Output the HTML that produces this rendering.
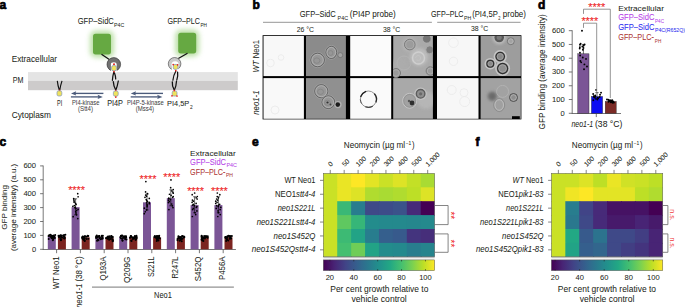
<!DOCTYPE html>
<html><head><meta charset="utf-8"><style>
html,body{margin:0;padding:0;background:#fff;}
body{width:685px;height:307px;overflow:hidden;}
svg{display:block;}
text{font-family:"Liberation Sans",sans-serif;}
</style></head><body>
<svg width="685" height="307" viewBox="0 0 685 307">
<rect width="685" height="307" fill="#fff"/>
<text x="-0.40" y="8.70" font-size="12.00" fill="#000" font-weight="bold" stroke="#000" stroke-width="0.7">a</text>
<text x="252.40" y="8.90" font-size="12.00" fill="#000" font-weight="bold" stroke="#000" stroke-width="0.7">b</text>
<text x="537.90" y="8.90" font-size="12.00" fill="#000" font-weight="bold" stroke="#000" stroke-width="0.7">d</text>
<text x="-0.40" y="146.30" font-size="12.00" fill="#000" font-weight="bold" stroke="#000" stroke-width="0.7">c</text>
<text x="251.90" y="146.40" font-size="12.00" fill="#000" font-weight="bold" stroke="#000" stroke-width="0.7">e</text>
<text x="475.40" y="145.80" font-size="12.00" fill="#000" font-weight="bold" stroke="#000" stroke-width="0.7">f</text>
<defs><filter id="glow" x="-50%" y="-50%" width="200%" height="200%"><feGaussianBlur stdDeviation="2.8"/></filter><filter id="bl0" x="-5%" y="-5%" width="110%" height="110%"><feGaussianBlur stdDeviation="0.45"/></filter><filter id="bl1" x="-20%" y="-20%" width="140%" height="140%"><feGaussianBlur stdDeviation="0.5"/></filter><filter id="bl2" x="-50%" y="-50%" width="200%" height="200%"><feGaussianBlur stdDeviation="1.5"/></filter><linearGradient id="cbar" x1="0" x2="1" y1="0" y2="0"><stop offset="0.00" stop-color="#440154"/><stop offset="0.05" stop-color="#461264"/><stop offset="0.10" stop-color="#482475"/><stop offset="0.15" stop-color="#44347e"/><stop offset="0.20" stop-color="#414487"/><stop offset="0.25" stop-color="#3b528a"/><stop offset="0.30" stop-color="#355f8d"/><stop offset="0.35" stop-color="#306c8e"/><stop offset="0.40" stop-color="#2a788e"/><stop offset="0.45" stop-color="#26848d"/><stop offset="0.50" stop-color="#21918c"/><stop offset="0.55" stop-color="#229c88"/><stop offset="0.60" stop-color="#22a884"/><stop offset="0.65" stop-color="#33b47a"/><stop offset="0.70" stop-color="#44bf70"/><stop offset="0.75" stop-color="#5fc860"/><stop offset="0.80" stop-color="#7ad151"/><stop offset="0.85" stop-color="#9cd83c"/><stop offset="0.90" stop-color="#bddf26"/><stop offset="0.95" stop-color="#dde326"/><stop offset="1.00" stop-color="#fde725"/></linearGradient></defs>
<rect x="28" y="72.1" width="209.8" height="8.7" fill="#e4e4e4"/>
<rect x="28" y="80.8" width="209.8" height="9.4" fill="#cdcbcb"/>
<text x="11.70" y="62.00" font-size="8.86" fill="#231f20" textLength="45.40" lengthAdjust="spacingAndGlyphs" stroke="#231f20" stroke-width="0.04">Extracellular</text>
<text x="12.80" y="82.90" font-size="9.18" fill="#231f20" textLength="10.70" lengthAdjust="spacingAndGlyphs" stroke="#231f20" stroke-width="0.04">PM</text>
<text x="11.70" y="118.30" font-size="8.40" fill="#231f20" textLength="39.20" lengthAdjust="spacingAndGlyphs" stroke="#231f20" stroke-width="0.04">Cytoplasm</text>
<rect x="90" y="30.799999999999997" width="24" height="26.6" rx="6" fill="#a6d68a" opacity="0.75" filter="url(#glow)"/>
<rect x="93" y="33.8" width="18" height="20.6" rx="2.6" fill="#66a942"/>
<rect x="175.2" y="29.799999999999997" width="24" height="26.6" rx="6" fill="#a6d68a" opacity="0.75" filter="url(#glow)"/>
<rect x="178.2" y="32.8" width="18" height="20.6" rx="2.6" fill="#66a942"/>
<text x="77.70" y="24.00" font-size="9.18" fill="#231f20" textLength="36.10" lengthAdjust="spacingAndGlyphs" stroke="#231f20" stroke-width="0.04">GFP–SidC</text>
<text x="114.10" y="26.80" font-size="5.75" fill="#231f20" textLength="10.20" lengthAdjust="spacingAndGlyphs" stroke="#231f20" stroke-width="0.04">P4C</text>
<text x="167.40" y="24.00" font-size="9.02" fill="#231f20" textLength="32.60" lengthAdjust="spacingAndGlyphs" stroke="#231f20" stroke-width="0.04">GFP–PLC</text>
<text x="200.50" y="26.60" font-size="5.75" fill="#231f20" textLength="6.50" lengthAdjust="spacingAndGlyphs" stroke="#231f20" stroke-width="0.04">PH</text>
<line x1="101.5" y1="54.2" x2="109.3" y2="59.6" stroke="#111" stroke-width="1.2"/>
<line x1="187.5" y1="53.2" x2="178.3" y2="58.5" stroke="#111" stroke-width="1.2"/>
<circle cx="113.8" cy="64.4" r="6.8" fill="#717171" stroke="#2a2a2a" stroke-width="0.6"/>
<path d="M110.9 72.5 L110.9 64 Q110.9 62.3 113.8 62.3 Q116.7 62.3 116.7 64 L116.7 72.5 Z" fill="#fff"/>
<circle cx="174.6" cy="63.8" r="6.3" fill="#c9c9c9" stroke="#3a3a3a" stroke-width="0.6"/>
<circle cx="175.1" cy="64.8" r="3.6" fill="#fff"/>
<path d="M172.6 65 L177.8 65 L178.8 71 L171.4 71 Z" fill="#fff"/>
<path d="M57.300000000000004 80.9 Q57.800000000000004 85.45 59.300000000000004 90 M62.0 80.9 Q60.5 85.45 59.800000000000004 90" stroke="#111" stroke-width="1.15" fill="none"/>
<circle cx="59.6" cy="90.4" r="0.85" fill="#e3211b"/>
<rect x="57.00" y="90.82" width="4.80" height="5.15" rx="1.6" fill="#f0e35c" stroke="#7d93bd" stroke-width="0.7"/>
<path d="M113.8 72.2 Q112.7 76 112.4 80.3" stroke="#111" stroke-width="1.25" fill="none" stroke-linecap="round"/>
<path d="M114.4 72.8 Q115.6 75.8 115.7 79" stroke="#111" stroke-width="1.25" fill="none" stroke-linecap="round"/>
<path d="M113.3 81.6 Q113.6 86 115.5 89.4" stroke="#111" stroke-width="1.25" fill="none" stroke-linecap="round"/>
<path d="M118.3 81.0 Q117.4 86 116.1 89.4" stroke="#111" stroke-width="1.25" fill="none" stroke-linecap="round"/>
<circle cx="114" cy="64.3" r="1.0" fill="#e3211b"/>
<rect x="111.60" y="65.62" width="4.80" height="5.15" rx="1.6" fill="#f0e35c" stroke="#7d93bd" stroke-width="0.7"/>
<circle cx="114" cy="71.6" r="0.85" fill="#e3211b"/>
<circle cx="115.8" cy="90.5" r="0.85" fill="#e3211b"/>
<rect x="113.40" y="91.02" width="4.80" height="5.15" rx="1.6" fill="#f0e35c" stroke="#7d93bd" stroke-width="0.7"/>
<circle cx="115.8" cy="97.1" r="0.85" fill="#e3211b"/>
<path d="M175.8 71.2 Q173.5 75 172.9 80.2" stroke="#111" stroke-width="1.25" fill="none" stroke-linecap="round"/>
<path d="M177.6 72.2 Q178.2 76 176.8 80.0" stroke="#111" stroke-width="1.25" fill="none" stroke-linecap="round"/>
<path d="M172.3 81.8 Q172 86 174.0 89.4" stroke="#111" stroke-width="1.25" fill="none" stroke-linecap="round"/>
<path d="M176.5 81.2 Q176.2 86 174.6 89.4" stroke="#111" stroke-width="1.25" fill="none" stroke-linecap="round"/>
<rect x="173.30" y="64.44" width="4.60" height="4.93" rx="1.6" fill="#f0e35c" stroke="#7d93bd" stroke-width="0.7"/>
<circle cx="173.2" cy="64.6" r="0.85" fill="#e3211b"/>
<circle cx="177.6" cy="64.8" r="0.85" fill="#e3211b"/>
<circle cx="175.8" cy="70.6" r="0.85" fill="#e3211b"/>
<rect x="172.20" y="90.92" width="4.80" height="5.15" rx="1.6" fill="#f0e35c" stroke="#7d93bd" stroke-width="0.7"/>
<circle cx="174.3" cy="90.5" r="0.85" fill="#e3211b"/>
<circle cx="172.0" cy="95.8" r="0.85" fill="#e3211b"/>
<circle cx="177.0" cy="96.0" r="0.85" fill="#e3211b"/>
<text x="57.00" y="105.80" font-size="8.40" fill="#231f20" textLength="5.20" lengthAdjust="spacingAndGlyphs" stroke="#231f20" stroke-width="0.04">PI</text>
<text x="107.20" y="105.90" font-size="8.24" fill="#231f20" textLength="15.80" lengthAdjust="spacingAndGlyphs" stroke="#231f20" stroke-width="0.04">PI4P</text>
<text x="167.10" y="106.00" font-size="8.09" fill="#231f20" textLength="22.10" lengthAdjust="spacingAndGlyphs" stroke="#231f20" stroke-width="0.04">PI4,5P</text>
<text x="190.00" y="108.70" font-size="5.20" fill="#231f20" textLength="2.70" lengthAdjust="spacingAndGlyphs" stroke="#231f20" stroke-width="0.04">2</text>
<line x1="74.0" y1="93.4" x2="103.4" y2="93.4" stroke="#4b5b7b" stroke-width="1.35"/>
<path d="M71.0 93.4 L76.2 91.2 L75.4 93.4 L76.2 95.6 Z" fill="#4b5b7b"/>
<line x1="70.9" y1="96.9" x2="99.80000000000001" y2="96.9" stroke="#4b5b7b" stroke-width="1.35"/>
<path d="M102.80000000000001 96.9 L97.60000000000001 94.7 L98.4 96.9 L97.60000000000001 99.1 Z" fill="#4b5b7b"/>
<line x1="133.8" y1="93.4" x2="163.0" y2="93.4" stroke="#4b5b7b" stroke-width="1.35"/>
<path d="M130.8 93.4 L136.0 91.2 L135.20000000000002 93.4 L136.0 95.6 Z" fill="#4b5b7b"/>
<line x1="130.70000000000002" y1="96.9" x2="159.4" y2="96.9" stroke="#4b5b7b" stroke-width="1.35"/>
<path d="M162.4 96.9 L157.20000000000002 94.7 L158.0 96.9 L157.20000000000002 99.1 Z" fill="#4b5b7b"/>
<text x="71.90" y="104.80" font-size="6.53" fill="#444" textLength="27.60" lengthAdjust="spacingAndGlyphs" stroke="#444" stroke-width="0.04">PI4-kinase</text>
<text x="78.00" y="111.20" font-size="6.53" fill="#444" textLength="15.00" lengthAdjust="spacingAndGlyphs" stroke="#444" stroke-width="0.04">(Stt4)</text>
<text x="126.90" y="104.90" font-size="6.53" fill="#444" textLength="36.80" lengthAdjust="spacingAndGlyphs" stroke="#444" stroke-width="0.04">PI4P-5-kinase</text>
<text x="135.70" y="111.30" font-size="6.53" fill="#444" textLength="18.40" lengthAdjust="spacingAndGlyphs" stroke="#444" stroke-width="0.04">(Mss4)</text>
<text x="299.70" y="17.20" font-size="8.86" fill="#231f20" textLength="36.10" lengthAdjust="spacingAndGlyphs" stroke="#231f20" stroke-width="0.04">GFP–SidC</text>
<text x="337.60" y="19.60" font-size="5.13" fill="#231f20" textLength="10.50" lengthAdjust="spacingAndGlyphs" stroke="#231f20" stroke-width="0.04">P4C</text>
<text x="349.80" y="17.20" font-size="8.24" fill="#231f20" textLength="46.00" lengthAdjust="spacingAndGlyphs" stroke="#231f20" stroke-width="0.04">(PI4P probe)</text>
<text x="431.10" y="17.20" font-size="8.86" fill="#231f20" textLength="32.40" lengthAdjust="spacingAndGlyphs" stroke="#231f20" stroke-width="0.04">GFP–PLC</text>
<text x="464.10" y="19.60" font-size="5.13" fill="#231f20" textLength="7.20" lengthAdjust="spacingAndGlyphs" stroke="#231f20" stroke-width="0.04">PH</text>
<text x="472.20" y="17.20" font-size="8.24" fill="#231f20" textLength="25.60" lengthAdjust="spacingAndGlyphs" stroke="#231f20" stroke-width="0.04">(PI4,5P</text>
<text x="498.20" y="19.80" font-size="4.98" fill="#231f20" textLength="2.20" lengthAdjust="spacingAndGlyphs" stroke="#231f20" stroke-width="0.04">2</text>
<text x="502.80" y="17.20" font-size="8.24" fill="#231f20" textLength="23.20" lengthAdjust="spacingAndGlyphs" stroke="#231f20" stroke-width="0.04">probe)</text>
<line x1="263" y1="22.3" x2="431.9" y2="22.3" stroke="#8a8a8a" stroke-width="0.9"/>
<line x1="437.2" y1="22.3" x2="520.6" y2="22.3" stroke="#8a8a8a" stroke-width="0.9"/>
<text x="296.70" y="31.70" font-size="6.84" fill="#231f20" textLength="17.30" lengthAdjust="spacingAndGlyphs" stroke="#231f20" stroke-width="0.04">26 °C</text>
<text x="383.00" y="31.70" font-size="6.84" fill="#231f20" textLength="17.30" lengthAdjust="spacingAndGlyphs" stroke="#231f20" stroke-width="0.04">38 °C</text>
<text x="471.00" y="31.40" font-size="6.84" fill="#231f20" textLength="17.30" lengthAdjust="spacingAndGlyphs" stroke="#231f20" stroke-width="0.04">38 °C</text>
<rect x="262.6" y="35.2" width="258.8" height="84.2" fill="#000"/>
<rect x="263.5" y="36" width="40.4" height="40.1" fill="#f8f8f8"/>
<rect x="306" y="36" width="39.9" height="40.1" fill="#8b8b8b"/>
<rect x="350.2" y="36" width="41.0" height="40.1" fill="#fbfbfb"/>
<rect x="393.2" y="36" width="39.7" height="40.1" fill="#aaaaaa"/>
<rect x="437" y="36" width="41.5" height="40.1" fill="#f7f7f7"/>
<rect x="480.6" y="36" width="40.2" height="40.1" fill="#9d9d9d"/>
<rect x="263.5" y="78.1" width="40.4" height="40.7" fill="#f9f9f9"/>
<rect x="306" y="78.1" width="39.9" height="40.7" fill="#909090"/>
<rect x="350.2" y="78.1" width="41.0" height="40.7" fill="#fafafa"/>
<rect x="393.2" y="78.1" width="39.7" height="40.7" fill="#a9a9a9"/>
<rect x="437" y="78.1" width="41.5" height="40.7" fill="#f7f7f7"/>
<rect x="480.6" y="78.1" width="40.2" height="40.7" fill="#a2a2a2"/>
<clipPath id="c14"><rect x="393.2" y="36" width="39.7" height="82.8"/></clipPath>
<clipPath id="c16"><rect x="480.6" y="36" width="40.2" height="82.8"/></clipPath>
<clipPath id="c12"><rect x="306" y="36" width="39.9" height="82.8"/></clipPath>
<g clip-path="url(#c12)"><g filter="url(#bl0)">
<ellipse cx="317.6" cy="60" rx="7.5" ry="7.5" fill="none" stroke="#a3a3a3" stroke-width="0.9"/>
<ellipse cx="317.6" cy="60" rx="6.8" ry="6.8" fill="#979797" stroke="#555" stroke-width="0.75"/>
<ellipse cx="317.6" cy="60" rx="5.699999999999999" ry="5.699999999999999" fill="none" stroke="#b6b6b6" stroke-width="0.8"/>
<ellipse cx="316.8" cy="60.6" rx="3.06" ry="2.72" fill="none" stroke="#7e7e7e" stroke-width="0.6"/>
<ellipse cx="331.3" cy="52.4" rx="6.1000000000000005" ry="6.8" fill="none" stroke="#a3a3a3" stroke-width="0.9"/>
<ellipse cx="331.3" cy="52.4" rx="5.4" ry="6.1" fill="#979797" stroke="#555" stroke-width="0.75"/>
<ellipse cx="331.3" cy="52.4" rx="4.300000000000001" ry="5.0" fill="none" stroke="#b6b6b6" stroke-width="0.8"/>
<ellipse cx="330.5" cy="53.0" rx="2.43" ry="2.44" fill="none" stroke="#7e7e7e" stroke-width="0.6"/>
<circle cx="340.3" cy="55.1" r="2.5" fill="#a2a2a2" stroke="#666" stroke-width="0.6"/>
<ellipse cx="321.3" cy="91.2" rx="7.3" ry="7.3" fill="none" stroke="#a3a3a3" stroke-width="0.9"/>
<ellipse cx="321.3" cy="91.2" rx="6.6" ry="6.6" fill="#979797" stroke="#555" stroke-width="0.75"/>
<ellipse cx="321.3" cy="91.2" rx="5.5" ry="5.5" fill="none" stroke="#b6b6b6" stroke-width="0.8"/>
<ellipse cx="320.5" cy="91.8" rx="2.97" ry="2.64" fill="none" stroke="#7e7e7e" stroke-width="0.6"/>
<ellipse cx="328.3" cy="102.2" rx="7.1000000000000005" ry="7.1000000000000005" fill="none" stroke="#a3a3a3" stroke-width="0.9"/>
<ellipse cx="328.3" cy="102.2" rx="6.4" ry="6.4" fill="#979797" stroke="#555" stroke-width="0.75"/>
<ellipse cx="328.3" cy="102.2" rx="5.300000000000001" ry="5.300000000000001" fill="none" stroke="#b6b6b6" stroke-width="0.8"/>
<ellipse cx="327.5" cy="102.8" rx="2.88" ry="2.56" fill="none" stroke="#7e7e7e" stroke-width="0.6"/>
<circle cx="338.0" cy="104.6" r="3.6" fill="#b0b0b0" filter="url(#bl1)"/>
<circle cx="337.8" cy="104.6" r="2.3" fill="#1e1e1e" filter="url(#bl1)"/>
<circle cx="327.5" cy="102.5" r="1.1" fill="#333"/>
<circle cx="330.5" cy="104.5" r="0.9" fill="#444"/>
</g></g>
<g clip-path="url(#c14)"><g filter="url(#bl0)">
<circle cx="419" cy="57" r="9" fill="#bdbdbd" filter="url(#bl2)"/>
<circle cx="426" cy="100" r="9" fill="#b6b6b6" filter="url(#bl2)"/>
<circle cx="400" cy="66" r="8" fill="#acacac" filter="url(#bl2)"/>
<circle cx="409.8" cy="44.6" r="7" fill="#b8b8b8" filter="url(#bl2)"/>
<circle cx="426.8" cy="38.8" r="4.3" fill="#767676" stroke="#b0b0b0" stroke-width="0.8" filter="url(#bl1)"/>
<circle cx="429.8" cy="49.8" r="4" fill="#808080" stroke="#b0b0b0" stroke-width="0.8" filter="url(#bl1)"/>
<ellipse cx="409.8" cy="44.6" rx="5.3" ry="5.3" fill="#9c9c9c" stroke="#7a7a7a" stroke-width="1.0"/>
<ellipse cx="409.8" cy="44.6" rx="4.1" ry="4.1" fill="none" stroke="#b5b5b5" stroke-width="0.7"/>
<circle cx="418.5" cy="58" r="6" fill="none" stroke="#cfcfcf" stroke-width="1.5"/>
<path d="M415.5 58 Q416 55 419 55.5 Q421.5 56.5 420.5 59.5 Q418.5 61.5 416.5 59.8" fill="none" stroke="#c4c4c4" stroke-width="1"/>
<circle cx="404" cy="63" r="7" fill="none" stroke="#b4b4b4" stroke-width="0.8"/>
<ellipse cx="396" cy="73" rx="4.5" ry="4.5" fill="#9a9a9a" stroke="#7a7a7a" stroke-width="1.0"/>
<ellipse cx="396" cy="73" rx="3.3" ry="3.3" fill="none" stroke="#b5b5b5" stroke-width="0.7"/>
<ellipse cx="430.3" cy="71" rx="4.2" ry="4.2" fill="#9a9a9a" stroke="#7a7a7a" stroke-width="1.0"/>
<ellipse cx="430.3" cy="71" rx="3.0" ry="3.0" fill="none" stroke="#b5b5b5" stroke-width="0.7"/>
<circle cx="420.6" cy="93.8" r="6.2" fill="#c4c4c4" filter="url(#bl1)"/>
<circle cx="420.6" cy="93.8" r="4.3" fill="#8f8f8f" stroke="#5c5c5c" stroke-width="1.4"/>
<circle cx="420.6" cy="93.8" r="1.6" fill="#6a6a6a"/>
<ellipse cx="409.7" cy="100.8" rx="7" ry="7.4" fill="#a2a2a2" stroke="#c6c6c6" stroke-width="1"/>
<ellipse cx="409.7" cy="100.8" rx="6" ry="6.4" fill="none" stroke="#8a8a8a" stroke-width="0.6"/>
<circle cx="412" cy="103" r="2.4" fill="#2d2d2d" filter="url(#bl1)"/>
<circle cx="409" cy="101" r="1.2" fill="#555" filter="url(#bl1)"/>
</g></g>
<g clip-path="url(#c16)"><g filter="url(#bl0)">
<circle cx="499.2" cy="37.5" r="6.5" fill="#c2c2c2" filter="url(#bl2)"/>
<circle cx="499.2" cy="37.5" r="4.8" fill="#585858" filter="url(#bl1)"/>
<circle cx="499.2" cy="37.5" r="2.5" fill="#7a7a7a" filter="url(#bl1)"/>
<circle cx="500.2" cy="56.6" r="5.9" fill="none" stroke="#c6c6c6" stroke-width="1.4"/>
<circle cx="490.3" cy="63.7" r="5.1" fill="none" stroke="#c6c6c6" stroke-width="1.4"/>
<circle cx="502.6" cy="68.5" r="6.800000000000001" fill="none" stroke="#c6c6c6" stroke-width="1.4"/>
<ellipse cx="510.8" cy="41.2" rx="3.5" ry="3.5" fill="#a2a2a2" stroke="#7a7a7a" stroke-width="1.0"/>
<ellipse cx="510.8" cy="41.2" rx="2.3" ry="2.3" fill="none" stroke="#bbb" stroke-width="0.7"/>
<ellipse cx="500.2" cy="56.6" rx="4.2" ry="4.2" fill="#888" stroke="#303030" stroke-width="1.3"/>
<ellipse cx="500.2" cy="56.6" rx="3.0" ry="3.0" fill="none" stroke="#a8a8a8" stroke-width="0.7"/>
<ellipse cx="490.3" cy="63.7" rx="3.4" ry="3.4" fill="#888" stroke="#303030" stroke-width="1.2"/>
<ellipse cx="490.3" cy="63.7" rx="2.2" ry="2.2" fill="none" stroke="#a8a8a8" stroke-width="0.7"/>
<ellipse cx="502.6" cy="68.5" rx="5" ry="5" fill="#8e8e8e" stroke="#303030" stroke-width="1.3"/>
<ellipse cx="502.6" cy="68.5" rx="3.8" ry="3.8" fill="none" stroke="#b0b0b0" stroke-width="0.7"/>
<circle cx="492.3" cy="96.2" r="4.5" fill="#6a6a6a" filter="url(#bl2)"/>
<ellipse cx="513.5" cy="97.5" rx="4" ry="4" fill="#8e8e8e" stroke="#505050" stroke-width="1.0"/>
<ellipse cx="513.5" cy="97.5" rx="2.8" ry="2.8" fill="none" stroke="#bbb" stroke-width="0.7"/>
<ellipse cx="499.2" cy="105" rx="5.5" ry="6.5" fill="#a0a0a0" stroke="#888" stroke-width="0.8"/>
<ellipse cx="499.2" cy="105" rx="4.3" ry="5.3" fill="none" stroke="#c8c8c8" stroke-width="0.7"/>
<circle cx="502.6" cy="91.4" r="6" fill="none" stroke="#b5b5b5" stroke-width="0.8"/>
</g></g>
<ellipse cx="368.4" cy="99.2" rx="8" ry="8.2" fill="none" stroke="#8a8a8a" stroke-width="0.9"/>
<path d="M360.79 96.43 A8.1 8.1 0 0 1 365.63 91.59" fill="none" stroke="#1e1e1e" stroke-width="1.4" stroke-linecap="round"/>
<path d="M374.60 93.99 A8.1 8.1 0 0 1 376.01 101.97" fill="none" stroke="#2a2a2a" stroke-width="1.3" stroke-linecap="round"/>
<path d="M372.45 106.21 A8.1 8.1 0 0 1 365.63 106.81" fill="none" stroke="#444" stroke-width="1.1" stroke-linecap="round"/>
<path d="M361.39 103.25 A8.1 8.1 0 0 1 360.33 99.91" fill="none" stroke="#555" stroke-width="1.0" stroke-linecap="round"/>
<circle cx="270.5" cy="63" r="3.8" fill="none" stroke="#ebebeb" stroke-width="0.9"/>
<circle cx="281" cy="57.5" r="2.8" fill="none" stroke="#ebebeb" stroke-width="0.9"/>
<circle cx="453.5" cy="42.7" r="4.8" fill="none" stroke="#ebebeb" stroke-width="0.9"/>
<circle cx="453.5" cy="61.3" r="4.2" fill="none" stroke="#ebebeb" stroke-width="0.9"/>
<circle cx="451.7" cy="90" r="4.5" fill="none" stroke="#ebebeb" stroke-width="0.9"/>
<circle cx="464" cy="92.7" r="4" fill="none" stroke="#ebebeb" stroke-width="0.9"/>
<circle cx="464.7" cy="101.6" r="5" fill="none" stroke="#ebebeb" stroke-width="0.9"/>
<circle cx="275" cy="110" r="4" fill="none" stroke="#ebebeb" stroke-width="0.9"/>
<rect x="512" y="116.2" width="7.8" height="2.8" fill="#000"/>
<text transform="translate(259.20,72.40) rotate(-90)" font-size="9.02" fill="#231f20" textLength="32.40" lengthAdjust="spacingAndGlyphs" stroke="#231f20" stroke-width="0.04"><tspan font-style="italic">WT</tspan> Neo1</text>
<text transform="translate(259.00,114.80) rotate(-90)" font-size="8.40" fill="#231f20" font-style="italic" textLength="24.30" lengthAdjust="spacingAndGlyphs" stroke="#231f20" stroke-width="0.04">neo1-1</text>
<text transform="translate(544.80,129.50) rotate(-90)" font-size="8.40" fill="#231f20" textLength="115.30" lengthAdjust="spacingAndGlyphs" stroke="#231f20" stroke-width="0.04">GFP binding (average intensity)</text>
<text x="564.80" y="115.70" font-size="7.54" fill="#231f20" text-anchor="end" textLength="4.20" lengthAdjust="spacingAndGlyphs" stroke="#231f20" stroke-width="0.04">0</text>
<line x1="568.8" y1="113.30" x2="572.2" y2="113.30" stroke="#555" stroke-width="0.8"/>
<text x="564.80" y="101.93" font-size="7.54" fill="#231f20" text-anchor="end" textLength="12.70" lengthAdjust="spacingAndGlyphs" stroke="#231f20" stroke-width="0.04">100</text>
<line x1="568.8" y1="99.53" x2="572.2" y2="99.53" stroke="#555" stroke-width="0.8"/>
<text x="564.80" y="88.16" font-size="7.54" fill="#231f20" text-anchor="end" textLength="12.70" lengthAdjust="spacingAndGlyphs" stroke="#231f20" stroke-width="0.04">200</text>
<line x1="568.8" y1="85.76" x2="572.2" y2="85.76" stroke="#555" stroke-width="0.8"/>
<text x="564.80" y="74.39" font-size="7.54" fill="#231f20" text-anchor="end" textLength="12.70" lengthAdjust="spacingAndGlyphs" stroke="#231f20" stroke-width="0.04">300</text>
<line x1="568.8" y1="71.99" x2="572.2" y2="71.99" stroke="#555" stroke-width="0.8"/>
<text x="564.80" y="60.62" font-size="7.54" fill="#231f20" text-anchor="end" textLength="12.70" lengthAdjust="spacingAndGlyphs" stroke="#231f20" stroke-width="0.04">400</text>
<line x1="568.8" y1="58.22" x2="572.2" y2="58.22" stroke="#555" stroke-width="0.8"/>
<text x="564.80" y="46.85" font-size="7.54" fill="#231f20" text-anchor="end" textLength="12.70" lengthAdjust="spacingAndGlyphs" stroke="#231f20" stroke-width="0.04">500</text>
<line x1="568.8" y1="44.45" x2="572.2" y2="44.45" stroke="#555" stroke-width="0.8"/>
<text x="564.80" y="33.08" font-size="7.54" fill="#231f20" text-anchor="end" textLength="12.70" lengthAdjust="spacingAndGlyphs" stroke="#231f20" stroke-width="0.04">600</text>
<line x1="568.8" y1="30.68" x2="572.2" y2="30.68" stroke="#555" stroke-width="0.8"/>
<line x1="572.2" y1="30.3" x2="572.2" y2="113.7" stroke="#555" stroke-width="0.8"/>
<line x1="571.8" y1="113.5" x2="621" y2="113.5" stroke="#555" stroke-width="0.8"/>
<line x1="596.3" y1="113.5" x2="596.3" y2="117.1" stroke="#555" stroke-width="0.8"/>
<rect x="577.8" y="53.81" width="11.2" height="59.49" fill="#7b5596" stroke="#222" stroke-width="0.4"/>
<rect x="591.4" y="96.50" width="11.2" height="16.80" fill="#0d0df2" stroke="#222" stroke-width="0.4"/>
<rect x="605.2" y="101.46" width="11.0" height="11.84" fill="#7b2b26" stroke="#222" stroke-width="0.4"/>
<line x1="583.4" y1="53.81" x2="583.4" y2="44.45" stroke="#000" stroke-width="0.6"/>
<line x1="581.8" y1="44.45" x2="585.0" y2="44.45" stroke="#000" stroke-width="0.6"/>
<circle cx="581.99" cy="30.68" r="0.95" fill="#000"/>
<circle cx="580.61" cy="43.76" r="0.95" fill="#000"/>
<circle cx="584.61" cy="44.45" r="0.95" fill="#000"/>
<circle cx="579.98" cy="44.73" r="0.95" fill="#000"/>
<circle cx="583.69" cy="45.55" r="0.95" fill="#000"/>
<circle cx="582.33" cy="46.52" r="0.95" fill="#000"/>
<circle cx="579.86" cy="47.20" r="0.95" fill="#000"/>
<circle cx="583.46" cy="47.89" r="0.95" fill="#000"/>
<circle cx="579.70" cy="48.58" r="0.95" fill="#000"/>
<circle cx="582.87" cy="49.68" r="0.95" fill="#000"/>
<circle cx="579.96" cy="52.71" r="0.95" fill="#000"/>
<circle cx="580.13" cy="55.47" r="0.95" fill="#000"/>
<circle cx="582.80" cy="57.53" r="0.95" fill="#000"/>
<circle cx="586.01" cy="58.91" r="0.95" fill="#000"/>
<circle cx="580.39" cy="60.97" r="0.95" fill="#000"/>
<circle cx="581.19" cy="62.35" r="0.95" fill="#000"/>
<circle cx="584.42" cy="64.42" r="0.95" fill="#000"/>
<circle cx="586.98" cy="66.48" r="0.95" fill="#000"/>
<circle cx="584.02" cy="69.24" r="0.95" fill="#000"/>
<line x1="597" y1="96.50" x2="597" y2="92.64" stroke="#000" stroke-width="0.6"/>
<line x1="595.4" y1="92.64" x2="598.6" y2="92.64" stroke="#000" stroke-width="0.6"/>
<circle cx="596.12" cy="89.89" r="0.95" fill="#000"/>
<circle cx="601.05" cy="92.64" r="0.95" fill="#000"/>
<circle cx="593.15" cy="94.02" r="0.95" fill="#000"/>
<circle cx="600.05" cy="94.71" r="0.95" fill="#000"/>
<circle cx="595.21" cy="95.40" r="0.95" fill="#000"/>
<circle cx="593.98" cy="96.09" r="0.95" fill="#000"/>
<circle cx="593.75" cy="96.50" r="0.95" fill="#000"/>
<circle cx="595.37" cy="96.78" r="0.95" fill="#000"/>
<circle cx="599.69" cy="97.05" r="0.95" fill="#000"/>
<circle cx="594.29" cy="97.46" r="0.95" fill="#000"/>
<circle cx="597.69" cy="97.88" r="0.95" fill="#000"/>
<circle cx="598.18" cy="98.15" r="0.95" fill="#000"/>
<circle cx="595.92" cy="98.84" r="0.95" fill="#000"/>
<circle cx="597.41" cy="99.53" r="0.95" fill="#000"/>
<circle cx="593.28" cy="100.22" r="0.95" fill="#000"/>
<circle cx="606.96" cy="99.53" r="0.95" fill="#000"/>
<circle cx="608.20" cy="99.81" r="0.95" fill="#000"/>
<circle cx="612.23" cy="100.08" r="0.95" fill="#000"/>
<circle cx="610.08" cy="100.22" r="0.95" fill="#000"/>
<circle cx="609.12" cy="100.49" r="0.95" fill="#000"/>
<circle cx="611.43" cy="100.63" r="0.95" fill="#000"/>
<circle cx="610.30" cy="100.91" r="0.95" fill="#000"/>
<circle cx="609.00" cy="101.18" r="0.95" fill="#000"/>
<circle cx="613.20" cy="101.46" r="0.95" fill="#000"/>
<circle cx="612.39" cy="101.60" r="0.95" fill="#000"/>
<circle cx="608.52" cy="101.73" r="0.95" fill="#000"/>
<circle cx="611.33" cy="102.01" r="0.95" fill="#000"/>
<circle cx="610.91" cy="102.28" r="0.95" fill="#000"/>
<circle cx="613.89" cy="102.56" r="0.95" fill="#000"/>
<circle cx="612.65" cy="102.83" r="0.95" fill="#000"/>
<path d="M583.5 13.9 L583.5 9.2 L610.3 9.2 L610.3 98" stroke="#7a7a7a" stroke-width="0.8" fill="none"/>
<path d="M583.5 27.9 L583.5 23.2 L596.7 23.2 L596.7 93" stroke="#7a7a7a" stroke-width="0.8" fill="none"/>
<text x="588.30" y="11.30" font-size="10.00" fill="#ee1c24" textLength="16.90" lengthAdjust="spacingAndGlyphs" stroke="#ee1c24" stroke-width="0.1">****</text>
<text x="581.40" y="25.20" font-size="10.00" fill="#ee1c24" textLength="16.80" lengthAdjust="spacingAndGlyphs" stroke="#ee1c24" stroke-width="0.1">****</text>
<text x="618.20" y="10.70" font-size="7.93" fill="#231f20" textLength="45.80" lengthAdjust="spacingAndGlyphs" stroke="#231f20" stroke-width="0.04">Extracellular</text>
<text x="618.20" y="19.90" font-size="8.55" fill="#b53ce8" textLength="36.30" lengthAdjust="spacingAndGlyphs" stroke="#b53ce8" stroke-width="0.04">GFP–SidC</text>
<text x="655.00" y="22.50" font-size="5.29" fill="#b53ce8" textLength="9.00" lengthAdjust="spacingAndGlyphs" stroke="#b53ce8" stroke-width="0.04">P4C</text>
<text x="618.20" y="29.80" font-size="8.55" fill="#2b2bf0" textLength="36.30" lengthAdjust="spacingAndGlyphs" stroke="#2b2bf0" stroke-width="0.04">GFP–SidC</text>
<text x="655.00" y="32.40" font-size="5.29" fill="#2b2bf0" textLength="30.00" lengthAdjust="spacingAndGlyphs" stroke="#2b2bf0" stroke-width="0.04">P4C(R652Q)</text>
<text x="618.20" y="39.90" font-size="8.55" fill="#ad3434" textLength="35.80" lengthAdjust="spacingAndGlyphs" stroke="#ad3434" stroke-width="0.04">GFP–PLC-</text>
<text x="654.80" y="42.50" font-size="5.29" fill="#ad3434" textLength="6.50" lengthAdjust="spacingAndGlyphs" stroke="#ad3434" stroke-width="0.04">PH</text>
<text x="571.40" y="127.30" font-size="8.40" fill="#231f20" font-style="italic" textLength="21.80" lengthAdjust="spacingAndGlyphs" stroke="#231f20" stroke-width="0.04">neo1-1</text>
<text x="595.00" y="127.30" font-size="8.40" fill="#231f20" textLength="27.30" lengthAdjust="spacingAndGlyphs" stroke="#231f20" stroke-width="0.04">(38 °C)</text>
<text transform="translate(6.70,229.70) rotate(-90)" font-size="7.93" fill="#231f20" textLength="44.60" lengthAdjust="spacingAndGlyphs" stroke="#231f20" stroke-width="0.04">GFP binding</text>
<text transform="translate(16.20,251.10) rotate(-90)" font-size="8.09" fill="#231f20" textLength="87.40" lengthAdjust="spacingAndGlyphs" stroke="#231f20" stroke-width="0.04">(average intensity) (a.u.)</text>
<text x="36.10" y="251.70" font-size="7.54" fill="#231f20" text-anchor="end" textLength="4.20" lengthAdjust="spacingAndGlyphs" stroke="#231f20" stroke-width="0.04">0</text>
<line x1="40.1" y1="249.30" x2="43.2" y2="249.30" stroke="#555" stroke-width="0.8"/>
<text x="36.10" y="237.80" font-size="7.54" fill="#231f20" text-anchor="end" textLength="12.70" lengthAdjust="spacingAndGlyphs" stroke="#231f20" stroke-width="0.04">100</text>
<line x1="40.1" y1="235.40" x2="43.2" y2="235.40" stroke="#555" stroke-width="0.8"/>
<text x="36.10" y="223.90" font-size="7.54" fill="#231f20" text-anchor="end" textLength="12.70" lengthAdjust="spacingAndGlyphs" stroke="#231f20" stroke-width="0.04">200</text>
<line x1="40.1" y1="221.50" x2="43.2" y2="221.50" stroke="#555" stroke-width="0.8"/>
<text x="36.10" y="210.00" font-size="7.54" fill="#231f20" text-anchor="end" textLength="12.70" lengthAdjust="spacingAndGlyphs" stroke="#231f20" stroke-width="0.04">300</text>
<line x1="40.1" y1="207.60" x2="43.2" y2="207.60" stroke="#555" stroke-width="0.8"/>
<text x="36.10" y="196.10" font-size="7.54" fill="#231f20" text-anchor="end" textLength="12.70" lengthAdjust="spacingAndGlyphs" stroke="#231f20" stroke-width="0.04">400</text>
<line x1="40.1" y1="193.70" x2="43.2" y2="193.70" stroke="#555" stroke-width="0.8"/>
<text x="36.10" y="182.20" font-size="7.54" fill="#231f20" text-anchor="end" textLength="12.70" lengthAdjust="spacingAndGlyphs" stroke="#231f20" stroke-width="0.04">500</text>
<line x1="40.1" y1="179.80" x2="43.2" y2="179.80" stroke="#555" stroke-width="0.8"/>
<text x="36.10" y="168.30" font-size="7.54" fill="#231f20" text-anchor="end" textLength="12.70" lengthAdjust="spacingAndGlyphs" stroke="#231f20" stroke-width="0.04">600</text>
<line x1="40.1" y1="165.90" x2="43.2" y2="165.90" stroke="#555" stroke-width="0.8"/>
<line x1="43.2" y1="165.6" x2="43.2" y2="249.7" stroke="#555" stroke-width="0.8"/>
<line x1="42.8" y1="249.5" x2="235.9" y2="249.5" stroke="#555" stroke-width="0.8"/>
<line x1="56.60" y1="249.5" x2="56.60" y2="253.2" stroke="#555" stroke-width="0.8"/>
<rect x="47.80" y="236.51" width="8.0" height="12.79" fill="#7b5596"/>
<rect x="57.90" y="236.51" width="8.0" height="12.79" fill="#7b2420"/>
<circle cx="50.32" cy="234.84" r="1.0" fill="#000"/>
<circle cx="55.16" cy="235.12" r="1.0" fill="#000"/>
<circle cx="49.13" cy="235.26" r="1.0" fill="#000"/>
<circle cx="51.23" cy="235.40" r="1.0" fill="#000"/>
<circle cx="53.60" cy="235.54" r="1.0" fill="#000"/>
<circle cx="49.36" cy="235.68" r="1.0" fill="#000"/>
<circle cx="51.72" cy="235.82" r="1.0" fill="#000"/>
<circle cx="48.57" cy="235.96" r="1.0" fill="#000"/>
<circle cx="52.98" cy="236.09" r="1.0" fill="#000"/>
<circle cx="53.65" cy="236.23" r="1.0" fill="#000"/>
<circle cx="52.31" cy="236.37" r="1.0" fill="#000"/>
<circle cx="54.43" cy="236.51" r="1.0" fill="#000"/>
<circle cx="50.50" cy="236.65" r="1.0" fill="#000"/>
<circle cx="53.17" cy="236.79" r="1.0" fill="#000"/>
<circle cx="52.46" cy="236.93" r="1.0" fill="#000"/>
<circle cx="52.36" cy="237.07" r="1.0" fill="#000"/>
<circle cx="51.49" cy="237.35" r="1.0" fill="#000"/>
<circle cx="54.18" cy="237.62" r="1.0" fill="#000"/>
<circle cx="54.91" cy="237.90" r="1.0" fill="#000"/>
<circle cx="51.62" cy="238.18" r="1.0" fill="#000"/>
<circle cx="52.95" cy="238.60" r="1.0" fill="#000"/>
<circle cx="48.72" cy="239.01" r="1.0" fill="#000"/>
<circle cx="53.21" cy="239.57" r="1.0" fill="#000"/>
<circle cx="52.83" cy="240.13" r="1.0" fill="#000"/>
<circle cx="65.35" cy="234.84" r="1.0" fill="#000"/>
<circle cx="64.15" cy="235.12" r="1.0" fill="#000"/>
<circle cx="60.39" cy="235.26" r="1.0" fill="#000"/>
<circle cx="61.10" cy="235.40" r="1.0" fill="#000"/>
<circle cx="63.08" cy="235.54" r="1.0" fill="#000"/>
<circle cx="58.56" cy="235.68" r="1.0" fill="#000"/>
<circle cx="61.63" cy="235.82" r="1.0" fill="#000"/>
<circle cx="59.58" cy="235.96" r="1.0" fill="#000"/>
<circle cx="59.22" cy="236.09" r="1.0" fill="#000"/>
<circle cx="58.81" cy="236.23" r="1.0" fill="#000"/>
<circle cx="63.78" cy="236.37" r="1.0" fill="#000"/>
<circle cx="59.31" cy="236.51" r="1.0" fill="#000"/>
<circle cx="60.13" cy="236.65" r="1.0" fill="#000"/>
<circle cx="61.14" cy="236.79" r="1.0" fill="#000"/>
<circle cx="64.50" cy="236.93" r="1.0" fill="#000"/>
<circle cx="58.96" cy="237.07" r="1.0" fill="#000"/>
<circle cx="61.54" cy="237.35" r="1.0" fill="#000"/>
<circle cx="62.25" cy="237.62" r="1.0" fill="#000"/>
<circle cx="64.58" cy="237.90" r="1.0" fill="#000"/>
<circle cx="64.13" cy="238.18" r="1.0" fill="#000"/>
<circle cx="64.45" cy="238.60" r="1.0" fill="#000"/>
<circle cx="60.35" cy="239.01" r="1.0" fill="#000"/>
<circle cx="61.31" cy="239.57" r="1.0" fill="#000"/>
<circle cx="60.91" cy="240.13" r="1.0" fill="#000"/>
<line x1="80.40" y1="249.5" x2="80.40" y2="253.2" stroke="#555" stroke-width="0.8"/>
<rect x="71.60" y="207.18" width="8.0" height="42.12" fill="#7b5596"/>
<rect x="81.70" y="237.35" width="8.0" height="11.95" fill="#7b2420"/>
<line x1="75.60000000000001" y1="214.83" x2="75.60000000000001" y2="198.84" stroke="#000" stroke-width="0.6"/>
<line x1="74.10000000000001" y1="198.84" x2="77.10000000000001" y2="198.84" stroke="#000" stroke-width="0.6"/>
<line x1="74.10000000000001" y1="214.83" x2="77.10000000000001" y2="214.83" stroke="#000" stroke-width="0.6"/>
<circle cx="77.71" cy="193.70" r="0.85" fill="#000"/>
<circle cx="78.12" cy="196.76" r="0.85" fill="#000"/>
<circle cx="73.68" cy="198.56" r="0.85" fill="#000"/>
<circle cx="73.82" cy="199.96" r="0.85" fill="#000"/>
<circle cx="74.13" cy="201.07" r="0.85" fill="#000"/>
<circle cx="74.13" cy="202.18" r="0.85" fill="#000"/>
<circle cx="75.52" cy="203.29" r="0.85" fill="#000"/>
<circle cx="76.09" cy="204.40" r="0.85" fill="#000"/>
<circle cx="74.30" cy="205.52" r="0.85" fill="#000"/>
<circle cx="72.87" cy="206.35" r="0.85" fill="#000"/>
<circle cx="75.15" cy="207.18" r="0.85" fill="#000"/>
<circle cx="74.88" cy="207.74" r="0.85" fill="#000"/>
<circle cx="75.96" cy="208.57" r="0.85" fill="#000"/>
<circle cx="78.09" cy="209.41" r="0.85" fill="#000"/>
<circle cx="76.65" cy="210.52" r="0.85" fill="#000"/>
<circle cx="75.69" cy="211.63" r="0.85" fill="#000"/>
<circle cx="76.25" cy="213.02" r="0.85" fill="#000"/>
<circle cx="76.57" cy="214.83" r="0.85" fill="#000"/>
<circle cx="73.15" cy="216.63" r="0.85" fill="#000"/>
<circle cx="77.80" cy="218.58" r="0.85" fill="#000"/>
<circle cx="87.66" cy="235.68" r="1.0" fill="#000"/>
<circle cx="88.32" cy="235.96" r="1.0" fill="#000"/>
<circle cx="87.79" cy="236.09" r="1.0" fill="#000"/>
<circle cx="84.95" cy="236.23" r="1.0" fill="#000"/>
<circle cx="84.99" cy="236.37" r="1.0" fill="#000"/>
<circle cx="82.92" cy="236.51" r="1.0" fill="#000"/>
<circle cx="86.64" cy="236.65" r="1.0" fill="#000"/>
<circle cx="82.64" cy="236.79" r="1.0" fill="#000"/>
<circle cx="82.67" cy="236.93" r="1.0" fill="#000"/>
<circle cx="83.66" cy="237.07" r="1.0" fill="#000"/>
<circle cx="83.34" cy="237.21" r="1.0" fill="#000"/>
<circle cx="84.58" cy="237.35" r="1.0" fill="#000"/>
<circle cx="82.57" cy="237.49" r="1.0" fill="#000"/>
<circle cx="82.20" cy="237.62" r="1.0" fill="#000"/>
<circle cx="83.26" cy="237.76" r="1.0" fill="#000"/>
<circle cx="82.91" cy="237.90" r="1.0" fill="#000"/>
<circle cx="84.75" cy="238.18" r="1.0" fill="#000"/>
<circle cx="82.38" cy="238.46" r="1.0" fill="#000"/>
<circle cx="88.32" cy="238.74" r="1.0" fill="#000"/>
<circle cx="86.50" cy="239.01" r="1.0" fill="#000"/>
<circle cx="83.24" cy="239.43" r="1.0" fill="#000"/>
<circle cx="83.97" cy="239.85" r="1.0" fill="#000"/>
<circle cx="84.63" cy="240.40" r="1.0" fill="#000"/>
<circle cx="84.75" cy="240.96" r="1.0" fill="#000"/>
<text x="68.15" y="194.30" font-size="10.00" fill="#ee1c24" textLength="16.90" lengthAdjust="spacingAndGlyphs" stroke="#ee1c24" stroke-width="0.1">****</text>
<line x1="104.20" y1="249.5" x2="104.20" y2="253.2" stroke="#555" stroke-width="0.8"/>
<rect x="95.40" y="237.07" width="8.0" height="12.23" fill="#7b5596"/>
<rect x="105.50" y="237.62" width="8.0" height="11.68" fill="#7b2420"/>
<circle cx="96.76" cy="235.40" r="1.0" fill="#000"/>
<circle cx="101.84" cy="235.68" r="1.0" fill="#000"/>
<circle cx="102.85" cy="235.82" r="1.0" fill="#000"/>
<circle cx="99.16" cy="235.96" r="1.0" fill="#000"/>
<circle cx="99.29" cy="236.09" r="1.0" fill="#000"/>
<circle cx="96.50" cy="236.23" r="1.0" fill="#000"/>
<circle cx="96.62" cy="236.37" r="1.0" fill="#000"/>
<circle cx="98.30" cy="236.51" r="1.0" fill="#000"/>
<circle cx="97.75" cy="236.65" r="1.0" fill="#000"/>
<circle cx="101.70" cy="236.79" r="1.0" fill="#000"/>
<circle cx="97.03" cy="236.93" r="1.0" fill="#000"/>
<circle cx="96.06" cy="237.07" r="1.0" fill="#000"/>
<circle cx="102.56" cy="237.21" r="1.0" fill="#000"/>
<circle cx="99.60" cy="237.35" r="1.0" fill="#000"/>
<circle cx="96.93" cy="237.49" r="1.0" fill="#000"/>
<circle cx="99.70" cy="237.62" r="1.0" fill="#000"/>
<circle cx="96.09" cy="237.90" r="1.0" fill="#000"/>
<circle cx="99.60" cy="238.18" r="1.0" fill="#000"/>
<circle cx="102.75" cy="238.46" r="1.0" fill="#000"/>
<circle cx="101.94" cy="238.74" r="1.0" fill="#000"/>
<circle cx="100.77" cy="239.15" r="1.0" fill="#000"/>
<circle cx="97.73" cy="239.57" r="1.0" fill="#000"/>
<circle cx="98.47" cy="240.13" r="1.0" fill="#000"/>
<circle cx="97.07" cy="240.68" r="1.0" fill="#000"/>
<circle cx="111.40" cy="235.96" r="1.0" fill="#000"/>
<circle cx="109.73" cy="236.23" r="1.0" fill="#000"/>
<circle cx="111.45" cy="236.37" r="1.0" fill="#000"/>
<circle cx="108.31" cy="236.51" r="1.0" fill="#000"/>
<circle cx="107.56" cy="236.65" r="1.0" fill="#000"/>
<circle cx="111.68" cy="236.79" r="1.0" fill="#000"/>
<circle cx="112.89" cy="236.93" r="1.0" fill="#000"/>
<circle cx="111.97" cy="237.07" r="1.0" fill="#000"/>
<circle cx="111.64" cy="237.21" r="1.0" fill="#000"/>
<circle cx="111.73" cy="237.35" r="1.0" fill="#000"/>
<circle cx="111.18" cy="237.49" r="1.0" fill="#000"/>
<circle cx="107.59" cy="237.62" r="1.0" fill="#000"/>
<circle cx="109.62" cy="237.76" r="1.0" fill="#000"/>
<circle cx="108.49" cy="237.90" r="1.0" fill="#000"/>
<circle cx="106.20" cy="238.04" r="1.0" fill="#000"/>
<circle cx="106.20" cy="238.18" r="1.0" fill="#000"/>
<circle cx="107.96" cy="238.46" r="1.0" fill="#000"/>
<circle cx="107.81" cy="238.74" r="1.0" fill="#000"/>
<circle cx="110.85" cy="239.01" r="1.0" fill="#000"/>
<circle cx="112.70" cy="239.29" r="1.0" fill="#000"/>
<circle cx="109.13" cy="239.71" r="1.0" fill="#000"/>
<circle cx="112.56" cy="240.13" r="1.0" fill="#000"/>
<circle cx="112.92" cy="240.68" r="1.0" fill="#000"/>
<circle cx="112.69" cy="241.24" r="1.0" fill="#000"/>
<line x1="128.00" y1="249.5" x2="128.00" y2="253.2" stroke="#555" stroke-width="0.8"/>
<rect x="119.20" y="237.07" width="8.0" height="12.23" fill="#7b5596"/>
<rect x="129.30" y="237.35" width="8.0" height="11.95" fill="#7b2420"/>
<circle cx="122.25" cy="235.40" r="1.0" fill="#000"/>
<circle cx="121.24" cy="235.68" r="1.0" fill="#000"/>
<circle cx="121.29" cy="235.82" r="1.0" fill="#000"/>
<circle cx="121.08" cy="235.96" r="1.0" fill="#000"/>
<circle cx="121.13" cy="236.09" r="1.0" fill="#000"/>
<circle cx="124.07" cy="236.23" r="1.0" fill="#000"/>
<circle cx="126.00" cy="236.37" r="1.0" fill="#000"/>
<circle cx="125.58" cy="236.51" r="1.0" fill="#000"/>
<circle cx="123.06" cy="236.65" r="1.0" fill="#000"/>
<circle cx="124.27" cy="236.79" r="1.0" fill="#000"/>
<circle cx="125.30" cy="236.93" r="1.0" fill="#000"/>
<circle cx="120.29" cy="237.07" r="1.0" fill="#000"/>
<circle cx="124.32" cy="237.21" r="1.0" fill="#000"/>
<circle cx="126.07" cy="237.35" r="1.0" fill="#000"/>
<circle cx="125.18" cy="237.49" r="1.0" fill="#000"/>
<circle cx="124.95" cy="237.62" r="1.0" fill="#000"/>
<circle cx="123.05" cy="237.90" r="1.0" fill="#000"/>
<circle cx="120.95" cy="238.18" r="1.0" fill="#000"/>
<circle cx="125.22" cy="238.46" r="1.0" fill="#000"/>
<circle cx="122.03" cy="238.74" r="1.0" fill="#000"/>
<circle cx="125.31" cy="239.15" r="1.0" fill="#000"/>
<circle cx="126.50" cy="239.57" r="1.0" fill="#000"/>
<circle cx="122.47" cy="240.13" r="1.0" fill="#000"/>
<circle cx="122.51" cy="240.68" r="1.0" fill="#000"/>
<circle cx="136.43" cy="235.68" r="1.0" fill="#000"/>
<circle cx="134.87" cy="235.96" r="1.0" fill="#000"/>
<circle cx="130.99" cy="236.09" r="1.0" fill="#000"/>
<circle cx="130.69" cy="236.23" r="1.0" fill="#000"/>
<circle cx="130.86" cy="236.37" r="1.0" fill="#000"/>
<circle cx="136.13" cy="236.51" r="1.0" fill="#000"/>
<circle cx="135.45" cy="236.65" r="1.0" fill="#000"/>
<circle cx="130.82" cy="236.79" r="1.0" fill="#000"/>
<circle cx="135.59" cy="236.93" r="1.0" fill="#000"/>
<circle cx="136.66" cy="237.07" r="1.0" fill="#000"/>
<circle cx="134.40" cy="237.21" r="1.0" fill="#000"/>
<circle cx="132.25" cy="237.35" r="1.0" fill="#000"/>
<circle cx="133.64" cy="237.49" r="1.0" fill="#000"/>
<circle cx="130.72" cy="237.62" r="1.0" fill="#000"/>
<circle cx="129.90" cy="237.76" r="1.0" fill="#000"/>
<circle cx="136.60" cy="237.90" r="1.0" fill="#000"/>
<circle cx="134.35" cy="238.18" r="1.0" fill="#000"/>
<circle cx="133.49" cy="238.46" r="1.0" fill="#000"/>
<circle cx="136.34" cy="238.74" r="1.0" fill="#000"/>
<circle cx="132.84" cy="239.01" r="1.0" fill="#000"/>
<circle cx="135.90" cy="239.43" r="1.0" fill="#000"/>
<circle cx="135.58" cy="239.85" r="1.0" fill="#000"/>
<circle cx="131.28" cy="240.40" r="1.0" fill="#000"/>
<circle cx="131.56" cy="240.96" r="1.0" fill="#000"/>
<line x1="151.80" y1="249.5" x2="151.80" y2="253.2" stroke="#555" stroke-width="0.8"/>
<rect x="143.00" y="202.32" width="8.0" height="46.98" fill="#7b5596"/>
<rect x="153.10" y="237.35" width="8.0" height="11.95" fill="#7b2420"/>
<line x1="147.0" y1="209.96" x2="147.0" y2="193.98" stroke="#000" stroke-width="0.6"/>
<line x1="145.5" y1="193.98" x2="148.5" y2="193.98" stroke="#000" stroke-width="0.6"/>
<line x1="145.5" y1="209.96" x2="148.5" y2="209.96" stroke="#000" stroke-width="0.6"/>
<circle cx="145.86" cy="181.61" r="0.85" fill="#000"/>
<circle cx="145.57" cy="191.89" r="0.85" fill="#000"/>
<circle cx="147.48" cy="193.70" r="0.85" fill="#000"/>
<circle cx="145.68" cy="195.09" r="0.85" fill="#000"/>
<circle cx="146.55" cy="196.20" r="0.85" fill="#000"/>
<circle cx="144.97" cy="197.31" r="0.85" fill="#000"/>
<circle cx="149.26" cy="198.43" r="0.85" fill="#000"/>
<circle cx="146.20" cy="199.54" r="0.85" fill="#000"/>
<circle cx="146.77" cy="200.65" r="0.85" fill="#000"/>
<circle cx="147.46" cy="201.48" r="0.85" fill="#000"/>
<circle cx="149.22" cy="202.32" r="0.85" fill="#000"/>
<circle cx="146.56" cy="202.87" r="0.85" fill="#000"/>
<circle cx="149.30" cy="203.71" r="0.85" fill="#000"/>
<circle cx="147.01" cy="204.54" r="0.85" fill="#000"/>
<circle cx="147.18" cy="205.65" r="0.85" fill="#000"/>
<circle cx="147.13" cy="206.77" r="0.85" fill="#000"/>
<circle cx="144.35" cy="208.16" r="0.85" fill="#000"/>
<circle cx="146.67" cy="209.96" r="0.85" fill="#000"/>
<circle cx="145.26" cy="211.77" r="0.85" fill="#000"/>
<circle cx="144.27" cy="213.72" r="0.85" fill="#000"/>
<circle cx="159.19" cy="235.68" r="1.0" fill="#000"/>
<circle cx="154.81" cy="235.96" r="1.0" fill="#000"/>
<circle cx="156.91" cy="236.09" r="1.0" fill="#000"/>
<circle cx="158.68" cy="236.23" r="1.0" fill="#000"/>
<circle cx="157.50" cy="236.37" r="1.0" fill="#000"/>
<circle cx="155.88" cy="236.51" r="1.0" fill="#000"/>
<circle cx="157.23" cy="236.65" r="1.0" fill="#000"/>
<circle cx="157.49" cy="236.79" r="1.0" fill="#000"/>
<circle cx="159.09" cy="236.93" r="1.0" fill="#000"/>
<circle cx="154.34" cy="237.07" r="1.0" fill="#000"/>
<circle cx="157.52" cy="237.21" r="1.0" fill="#000"/>
<circle cx="155.34" cy="237.35" r="1.0" fill="#000"/>
<circle cx="155.54" cy="237.49" r="1.0" fill="#000"/>
<circle cx="159.01" cy="237.62" r="1.0" fill="#000"/>
<circle cx="157.15" cy="237.76" r="1.0" fill="#000"/>
<circle cx="157.53" cy="237.90" r="1.0" fill="#000"/>
<circle cx="158.92" cy="238.18" r="1.0" fill="#000"/>
<circle cx="159.99" cy="238.46" r="1.0" fill="#000"/>
<circle cx="156.70" cy="238.74" r="1.0" fill="#000"/>
<circle cx="157.89" cy="239.01" r="1.0" fill="#000"/>
<circle cx="157.14" cy="239.43" r="1.0" fill="#000"/>
<circle cx="157.19" cy="239.85" r="1.0" fill="#000"/>
<circle cx="158.45" cy="240.40" r="1.0" fill="#000"/>
<circle cx="156.77" cy="240.96" r="1.0" fill="#000"/>
<text x="139.55" y="183.10" font-size="10.00" fill="#ee1c24" textLength="16.90" lengthAdjust="spacingAndGlyphs" stroke="#ee1c24" stroke-width="0.1">****</text>
<line x1="175.60" y1="249.5" x2="175.60" y2="253.2" stroke="#555" stroke-width="0.8"/>
<rect x="166.80" y="198.15" width="8.0" height="51.15" fill="#7b5596"/>
<rect x="176.90" y="237.62" width="8.0" height="11.68" fill="#7b2420"/>
<line x1="170.79999999999998" y1="205.79" x2="170.79999999999998" y2="189.81" stroke="#000" stroke-width="0.6"/>
<line x1="169.29999999999998" y1="189.81" x2="172.29999999999998" y2="189.81" stroke="#000" stroke-width="0.6"/>
<line x1="169.29999999999998" y1="205.79" x2="172.29999999999998" y2="205.79" stroke="#000" stroke-width="0.6"/>
<circle cx="170.98" cy="179.94" r="0.85" fill="#000"/>
<circle cx="170.68" cy="187.72" r="0.85" fill="#000"/>
<circle cx="173.23" cy="189.53" r="0.85" fill="#000"/>
<circle cx="171.90" cy="190.92" r="0.85" fill="#000"/>
<circle cx="172.87" cy="192.03" r="0.85" fill="#000"/>
<circle cx="173.23" cy="193.14" r="0.85" fill="#000"/>
<circle cx="169.48" cy="194.26" r="0.85" fill="#000"/>
<circle cx="171.13" cy="195.37" r="0.85" fill="#000"/>
<circle cx="173.24" cy="196.48" r="0.85" fill="#000"/>
<circle cx="172.67" cy="197.31" r="0.85" fill="#000"/>
<circle cx="168.80" cy="198.15" r="0.85" fill="#000"/>
<circle cx="168.72" cy="198.70" r="0.85" fill="#000"/>
<circle cx="170.48" cy="199.54" r="0.85" fill="#000"/>
<circle cx="168.45" cy="200.37" r="0.85" fill="#000"/>
<circle cx="169.37" cy="201.48" r="0.85" fill="#000"/>
<circle cx="168.45" cy="202.60" r="0.85" fill="#000"/>
<circle cx="171.73" cy="203.99" r="0.85" fill="#000"/>
<circle cx="172.36" cy="205.79" r="0.85" fill="#000"/>
<circle cx="172.98" cy="207.60" r="0.85" fill="#000"/>
<circle cx="168.90" cy="209.55" r="0.85" fill="#000"/>
<circle cx="182.41" cy="235.96" r="1.0" fill="#000"/>
<circle cx="182.02" cy="236.23" r="1.0" fill="#000"/>
<circle cx="178.40" cy="236.37" r="1.0" fill="#000"/>
<circle cx="183.58" cy="236.51" r="1.0" fill="#000"/>
<circle cx="184.17" cy="236.65" r="1.0" fill="#000"/>
<circle cx="178.94" cy="236.79" r="1.0" fill="#000"/>
<circle cx="184.07" cy="236.93" r="1.0" fill="#000"/>
<circle cx="180.19" cy="237.07" r="1.0" fill="#000"/>
<circle cx="180.81" cy="237.21" r="1.0" fill="#000"/>
<circle cx="184.33" cy="237.35" r="1.0" fill="#000"/>
<circle cx="183.23" cy="237.49" r="1.0" fill="#000"/>
<circle cx="178.53" cy="237.62" r="1.0" fill="#000"/>
<circle cx="180.42" cy="237.76" r="1.0" fill="#000"/>
<circle cx="181.01" cy="237.90" r="1.0" fill="#000"/>
<circle cx="179.77" cy="238.04" r="1.0" fill="#000"/>
<circle cx="178.77" cy="238.18" r="1.0" fill="#000"/>
<circle cx="179.63" cy="238.46" r="1.0" fill="#000"/>
<circle cx="182.46" cy="238.74" r="1.0" fill="#000"/>
<circle cx="177.54" cy="239.01" r="1.0" fill="#000"/>
<circle cx="181.28" cy="239.29" r="1.0" fill="#000"/>
<circle cx="180.48" cy="239.71" r="1.0" fill="#000"/>
<circle cx="177.53" cy="240.13" r="1.0" fill="#000"/>
<circle cx="179.72" cy="240.68" r="1.0" fill="#000"/>
<circle cx="181.77" cy="241.24" r="1.0" fill="#000"/>
<text x="163.35" y="181.20" font-size="10.00" fill="#ee1c24" textLength="16.90" lengthAdjust="spacingAndGlyphs" stroke="#ee1c24" stroke-width="0.1">****</text>
<line x1="199.40" y1="249.5" x2="199.40" y2="253.2" stroke="#555" stroke-width="0.8"/>
<rect x="190.60" y="205.10" width="8.0" height="44.20" fill="#7b5596"/>
<rect x="200.70" y="237.35" width="8.0" height="11.95" fill="#7b2420"/>
<line x1="194.6" y1="212.74" x2="194.6" y2="196.76" stroke="#000" stroke-width="0.6"/>
<line x1="193.1" y1="196.76" x2="196.1" y2="196.76" stroke="#000" stroke-width="0.6"/>
<line x1="193.1" y1="212.74" x2="196.1" y2="212.74" stroke="#000" stroke-width="0.6"/>
<circle cx="194.67" cy="193.00" r="0.85" fill="#000"/>
<circle cx="192.20" cy="194.67" r="0.85" fill="#000"/>
<circle cx="197.27" cy="196.48" r="0.85" fill="#000"/>
<circle cx="196.19" cy="197.87" r="0.85" fill="#000"/>
<circle cx="197.19" cy="198.98" r="0.85" fill="#000"/>
<circle cx="192.43" cy="200.09" r="0.85" fill="#000"/>
<circle cx="193.31" cy="201.21" r="0.85" fill="#000"/>
<circle cx="192.07" cy="202.32" r="0.85" fill="#000"/>
<circle cx="196.13" cy="203.43" r="0.85" fill="#000"/>
<circle cx="193.34" cy="204.26" r="0.85" fill="#000"/>
<circle cx="192.56" cy="205.10" r="0.85" fill="#000"/>
<circle cx="194.17" cy="205.65" r="0.85" fill="#000"/>
<circle cx="196.86" cy="206.49" r="0.85" fill="#000"/>
<circle cx="196.35" cy="207.32" r="0.85" fill="#000"/>
<circle cx="193.27" cy="208.43" r="0.85" fill="#000"/>
<circle cx="192.67" cy="209.55" r="0.85" fill="#000"/>
<circle cx="196.91" cy="210.94" r="0.85" fill="#000"/>
<circle cx="194.99" cy="212.74" r="0.85" fill="#000"/>
<circle cx="195.70" cy="214.55" r="0.85" fill="#000"/>
<circle cx="192.34" cy="216.50" r="0.85" fill="#000"/>
<circle cx="201.60" cy="235.68" r="1.0" fill="#000"/>
<circle cx="206.02" cy="235.96" r="1.0" fill="#000"/>
<circle cx="204.18" cy="236.09" r="1.0" fill="#000"/>
<circle cx="201.71" cy="236.23" r="1.0" fill="#000"/>
<circle cx="207.77" cy="236.37" r="1.0" fill="#000"/>
<circle cx="205.64" cy="236.51" r="1.0" fill="#000"/>
<circle cx="206.81" cy="236.65" r="1.0" fill="#000"/>
<circle cx="201.79" cy="236.79" r="1.0" fill="#000"/>
<circle cx="207.19" cy="236.93" r="1.0" fill="#000"/>
<circle cx="201.67" cy="237.07" r="1.0" fill="#000"/>
<circle cx="207.24" cy="237.21" r="1.0" fill="#000"/>
<circle cx="204.38" cy="237.35" r="1.0" fill="#000"/>
<circle cx="203.57" cy="237.49" r="1.0" fill="#000"/>
<circle cx="205.07" cy="237.62" r="1.0" fill="#000"/>
<circle cx="207.69" cy="237.76" r="1.0" fill="#000"/>
<circle cx="203.08" cy="237.90" r="1.0" fill="#000"/>
<circle cx="202.10" cy="238.18" r="1.0" fill="#000"/>
<circle cx="204.89" cy="238.46" r="1.0" fill="#000"/>
<circle cx="202.87" cy="238.74" r="1.0" fill="#000"/>
<circle cx="201.97" cy="239.01" r="1.0" fill="#000"/>
<circle cx="202.33" cy="239.43" r="1.0" fill="#000"/>
<circle cx="201.55" cy="239.85" r="1.0" fill="#000"/>
<circle cx="202.61" cy="240.40" r="1.0" fill="#000"/>
<circle cx="203.38" cy="240.96" r="1.0" fill="#000"/>
<text x="187.15" y="194.50" font-size="10.00" fill="#ee1c24" textLength="16.90" lengthAdjust="spacingAndGlyphs" stroke="#ee1c24" stroke-width="0.1">****</text>
<line x1="223.20" y1="249.5" x2="223.20" y2="253.2" stroke="#555" stroke-width="0.8"/>
<rect x="214.40" y="205.10" width="8.0" height="44.20" fill="#7b5596"/>
<rect x="224.50" y="237.35" width="8.0" height="11.95" fill="#7b2420"/>
<line x1="218.39999999999998" y1="212.74" x2="218.39999999999998" y2="196.76" stroke="#000" stroke-width="0.6"/>
<line x1="216.89999999999998" y1="196.76" x2="219.89999999999998" y2="196.76" stroke="#000" stroke-width="0.6"/>
<line x1="216.89999999999998" y1="212.74" x2="219.89999999999998" y2="212.74" stroke="#000" stroke-width="0.6"/>
<circle cx="217.33" cy="193.00" r="0.85" fill="#000"/>
<circle cx="219.83" cy="194.67" r="0.85" fill="#000"/>
<circle cx="217.24" cy="196.48" r="0.85" fill="#000"/>
<circle cx="218.40" cy="197.87" r="0.85" fill="#000"/>
<circle cx="216.63" cy="198.98" r="0.85" fill="#000"/>
<circle cx="217.56" cy="200.09" r="0.85" fill="#000"/>
<circle cx="215.75" cy="201.21" r="0.85" fill="#000"/>
<circle cx="217.03" cy="202.32" r="0.85" fill="#000"/>
<circle cx="215.73" cy="203.43" r="0.85" fill="#000"/>
<circle cx="219.68" cy="204.26" r="0.85" fill="#000"/>
<circle cx="218.68" cy="205.10" r="0.85" fill="#000"/>
<circle cx="216.69" cy="205.65" r="0.85" fill="#000"/>
<circle cx="218.26" cy="206.49" r="0.85" fill="#000"/>
<circle cx="220.79" cy="207.32" r="0.85" fill="#000"/>
<circle cx="216.23" cy="208.43" r="0.85" fill="#000"/>
<circle cx="220.15" cy="209.55" r="0.85" fill="#000"/>
<circle cx="218.03" cy="210.94" r="0.85" fill="#000"/>
<circle cx="218.37" cy="212.74" r="0.85" fill="#000"/>
<circle cx="220.24" cy="214.55" r="0.85" fill="#000"/>
<circle cx="217.81" cy="216.50" r="0.85" fill="#000"/>
<circle cx="228.55" cy="235.68" r="1.0" fill="#000"/>
<circle cx="229.81" cy="235.96" r="1.0" fill="#000"/>
<circle cx="231.88" cy="236.09" r="1.0" fill="#000"/>
<circle cx="227.40" cy="236.23" r="1.0" fill="#000"/>
<circle cx="230.83" cy="236.37" r="1.0" fill="#000"/>
<circle cx="229.95" cy="236.51" r="1.0" fill="#000"/>
<circle cx="229.45" cy="236.65" r="1.0" fill="#000"/>
<circle cx="227.83" cy="236.79" r="1.0" fill="#000"/>
<circle cx="227.43" cy="236.93" r="1.0" fill="#000"/>
<circle cx="225.38" cy="237.07" r="1.0" fill="#000"/>
<circle cx="225.91" cy="237.21" r="1.0" fill="#000"/>
<circle cx="225.50" cy="237.35" r="1.0" fill="#000"/>
<circle cx="230.19" cy="237.49" r="1.0" fill="#000"/>
<circle cx="226.79" cy="237.62" r="1.0" fill="#000"/>
<circle cx="226.14" cy="237.76" r="1.0" fill="#000"/>
<circle cx="225.59" cy="237.90" r="1.0" fill="#000"/>
<circle cx="230.89" cy="238.18" r="1.0" fill="#000"/>
<circle cx="231.09" cy="238.46" r="1.0" fill="#000"/>
<circle cx="229.69" cy="238.74" r="1.0" fill="#000"/>
<circle cx="226.97" cy="239.01" r="1.0" fill="#000"/>
<circle cx="226.70" cy="239.43" r="1.0" fill="#000"/>
<circle cx="227.05" cy="239.85" r="1.0" fill="#000"/>
<circle cx="228.22" cy="240.40" r="1.0" fill="#000"/>
<circle cx="226.10" cy="240.96" r="1.0" fill="#000"/>
<text x="210.95" y="194.50" font-size="10.00" fill="#ee1c24" textLength="16.90" lengthAdjust="spacingAndGlyphs" stroke="#ee1c24" stroke-width="0.1">****</text>
<text x="190.10" y="155.80" font-size="7.93" fill="#231f20" textLength="45.60" lengthAdjust="spacingAndGlyphs" stroke="#231f20" stroke-width="0.04">Extracellular</text>
<text x="190.10" y="164.60" font-size="8.55" fill="#b53ce8" textLength="35.90" lengthAdjust="spacingAndGlyphs" stroke="#b53ce8" stroke-width="0.04">GFP–SidC</text>
<text x="226.50" y="167.20" font-size="5.29" fill="#b53ce8" textLength="10.50" lengthAdjust="spacingAndGlyphs" stroke="#b53ce8" stroke-width="0.04">P4C</text>
<text x="190.10" y="174.60" font-size="8.55" fill="#ad3434" textLength="35.40" lengthAdjust="spacingAndGlyphs" stroke="#ad3434" stroke-width="0.04">GFP–PLC-</text>
<text x="226.00" y="177.20" font-size="5.29" fill="#ad3434" textLength="7.00" lengthAdjust="spacingAndGlyphs" stroke="#ad3434" stroke-width="0.04">PH</text>
<text transform="translate(58.60,256.50) rotate(-90)" font-size="8.55" fill="#231f20" text-anchor="end" textLength="32.50" lengthAdjust="spacingAndGlyphs" stroke="#231f20" stroke-width="0.04">WT Neo1</text>
<text transform="translate(82.40,256.50) rotate(-90)" font-size="8.55" fill="#231f20" text-anchor="end" textLength="51.50" lengthAdjust="spacingAndGlyphs" stroke="#231f20" stroke-width="0.04"><tspan font-style="italic">neo1-1</tspan> (38 °C)</text>
<text transform="translate(106.20,256.50) rotate(-90)" font-size="8.55" fill="#231f20" text-anchor="end" textLength="24.10" lengthAdjust="spacingAndGlyphs" stroke="#231f20" stroke-width="0.04">Q193A</text>
<text transform="translate(130.00,256.50) rotate(-90)" font-size="8.55" fill="#231f20" text-anchor="end" textLength="26.60" lengthAdjust="spacingAndGlyphs" stroke="#231f20" stroke-width="0.04">Q209G</text>
<text transform="translate(153.80,256.50) rotate(-90)" font-size="8.55" fill="#231f20" text-anchor="end" textLength="20.60" lengthAdjust="spacingAndGlyphs" stroke="#231f20" stroke-width="0.04">S221L</text>
<text transform="translate(177.60,256.50) rotate(-90)" font-size="8.55" fill="#231f20" text-anchor="end" textLength="22.10" lengthAdjust="spacingAndGlyphs" stroke="#231f20" stroke-width="0.04">R247L</text>
<text transform="translate(201.40,256.50) rotate(-90)" font-size="8.55" fill="#231f20" text-anchor="end" textLength="24.80" lengthAdjust="spacingAndGlyphs" stroke="#231f20" stroke-width="0.04">S452Q</text>
<text transform="translate(225.20,256.50) rotate(-90)" font-size="8.55" fill="#231f20" text-anchor="end" textLength="23.50" lengthAdjust="spacingAndGlyphs" stroke="#231f20" stroke-width="0.04">P456A</text>
<line x1="92" y1="287.1" x2="233.9" y2="287.1" stroke="#555" stroke-width="0.8"/>
<text x="154.10" y="297.90" font-size="8.71" fill="#231f20" textLength="17.80" lengthAdjust="spacingAndGlyphs" stroke="#231f20" stroke-width="0.04">Neo1</text>
<text x="343.80" y="147.60" font-size="9.49" fill="#231f20" textLength="61.30" lengthAdjust="spacingAndGlyphs" stroke="#231f20" stroke-width="0.04">Neomycin (µg ml</text>
<text x="405.60" y="144.60" font-size="5.20" fill="#231f20" textLength="5.60" lengthAdjust="spacingAndGlyphs" stroke="#231f20" stroke-width="0.04">−1</text>
<text x="411.90" y="147.60" font-size="9.49" fill="#231f20" textLength="2.60" lengthAdjust="spacingAndGlyphs" stroke="#231f20" stroke-width="0.04">)</text>
<rect x="323.30" y="173.40" width="14.92" height="14.90" fill="#cae126"/>
<rect x="337.22" y="173.40" width="14.92" height="14.90" fill="#eae525"/>
<rect x="351.14" y="173.40" width="14.92" height="14.90" fill="#fde725"/>
<rect x="365.06" y="173.40" width="14.92" height="14.90" fill="#e3e425"/>
<rect x="378.98" y="173.40" width="14.92" height="14.90" fill="#cae126"/>
<rect x="392.90" y="173.40" width="14.92" height="14.90" fill="#dde326"/>
<rect x="406.82" y="173.40" width="14.92" height="14.90" fill="#c3e026"/>
<rect x="420.74" y="173.40" width="13.92" height="14.90" fill="#a9db33"/>
<rect x="323.30" y="187.30" width="14.92" height="14.90" fill="#cae126"/>
<rect x="337.22" y="187.30" width="14.92" height="14.90" fill="#eae525"/>
<rect x="351.14" y="187.30" width="14.92" height="14.90" fill="#dde326"/>
<rect x="365.06" y="187.30" width="14.92" height="14.90" fill="#b0dc2f"/>
<rect x="378.98" y="187.30" width="14.92" height="14.90" fill="#a9db33"/>
<rect x="392.90" y="187.30" width="14.92" height="14.90" fill="#b0dc2f"/>
<rect x="406.82" y="187.30" width="14.92" height="14.90" fill="#bddf26"/>
<rect x="420.74" y="187.30" width="13.92" height="14.90" fill="#dde326"/>
<rect x="323.30" y="201.20" width="14.92" height="14.90" fill="#cae126"/>
<rect x="337.22" y="201.20" width="14.92" height="14.90" fill="#3ab876"/>
<rect x="351.14" y="201.20" width="14.92" height="14.90" fill="#287d8e"/>
<rect x="365.06" y="201.20" width="14.92" height="14.90" fill="#3f4988"/>
<rect x="378.98" y="201.20" width="14.92" height="14.90" fill="#3d4c89"/>
<rect x="392.90" y="201.20" width="14.92" height="14.90" fill="#3b528a"/>
<rect x="406.82" y="201.20" width="14.92" height="14.90" fill="#472a79"/>
<rect x="420.74" y="201.20" width="13.92" height="14.90" fill="#440154"/>
<rect x="323.30" y="215.10" width="14.92" height="14.90" fill="#cae126"/>
<rect x="337.22" y="215.10" width="14.92" height="14.90" fill="#5fc860"/>
<rect x="351.14" y="215.10" width="14.92" height="14.90" fill="#36b678"/>
<rect x="365.06" y="215.10" width="14.92" height="14.90" fill="#238c8c"/>
<rect x="378.98" y="215.10" width="14.92" height="14.90" fill="#24898d"/>
<rect x="392.90" y="215.10" width="14.92" height="14.90" fill="#24898d"/>
<rect x="406.82" y="215.10" width="14.92" height="14.90" fill="#25878d"/>
<rect x="420.74" y="215.10" width="13.92" height="14.90" fill="#24898d"/>
<rect x="323.30" y="229.00" width="14.92" height="14.90" fill="#cae126"/>
<rect x="337.22" y="229.00" width="14.92" height="14.90" fill="#3dba74"/>
<rect x="351.14" y="229.00" width="14.92" height="14.90" fill="#22a386"/>
<rect x="365.06" y="229.00" width="14.92" height="14.90" fill="#287d8e"/>
<rect x="378.98" y="229.00" width="14.92" height="14.90" fill="#355f8d"/>
<rect x="392.90" y="229.00" width="14.92" height="14.90" fill="#375a8c"/>
<rect x="406.82" y="229.00" width="14.92" height="14.90" fill="#44347e"/>
<rect x="420.74" y="229.00" width="13.92" height="14.90" fill="#462e7a"/>
<rect x="323.30" y="242.90" width="14.92" height="13.90" fill="#cae126"/>
<rect x="337.22" y="242.90" width="14.92" height="13.90" fill="#44bf70"/>
<rect x="351.14" y="242.90" width="14.92" height="13.90" fill="#6fcd57"/>
<rect x="365.06" y="242.90" width="14.92" height="13.90" fill="#22a386"/>
<rect x="378.98" y="242.90" width="14.92" height="13.90" fill="#238c8c"/>
<rect x="392.90" y="242.90" width="14.92" height="13.90" fill="#24898d"/>
<rect x="406.82" y="242.90" width="14.92" height="13.90" fill="#287d8e"/>
<rect x="420.74" y="242.90" width="13.92" height="13.90" fill="#26848d"/>
<rect x="323.3" y="173.4" width="111.36" height="83.40" fill="none" stroke="#555" stroke-width="0.5"/>
<line x1="330.26" y1="173.4" x2="330.26" y2="169.9" stroke="#333" stroke-width="0.6"/>
<text transform="translate(330.76,167.10) rotate(-45)" font-size="6.80" fill="#231f20" stroke="#231f20" stroke-width="0.04">0</text>
<line x1="344.18" y1="173.4" x2="344.18" y2="169.9" stroke="#333" stroke-width="0.6"/>
<text transform="translate(344.68,167.10) rotate(-45)" font-size="6.80" fill="#231f20" stroke="#231f20" stroke-width="0.04">50</text>
<line x1="358.10" y1="173.4" x2="358.10" y2="169.9" stroke="#333" stroke-width="0.6"/>
<text transform="translate(358.60,167.10) rotate(-45)" font-size="6.80" fill="#231f20" stroke="#231f20" stroke-width="0.04">100</text>
<line x1="372.02" y1="173.4" x2="372.02" y2="169.9" stroke="#333" stroke-width="0.6"/>
<text transform="translate(372.52,167.10) rotate(-45)" font-size="6.80" fill="#231f20" stroke="#231f20" stroke-width="0.04">200</text>
<line x1="385.94" y1="173.4" x2="385.94" y2="169.9" stroke="#333" stroke-width="0.6"/>
<text transform="translate(386.44,167.10) rotate(-45)" font-size="6.80" fill="#231f20" stroke="#231f20" stroke-width="0.04">300</text>
<line x1="399.86" y1="173.4" x2="399.86" y2="169.9" stroke="#333" stroke-width="0.6"/>
<text transform="translate(400.36,167.10) rotate(-45)" font-size="6.80" fill="#231f20" stroke="#231f20" stroke-width="0.04">400</text>
<line x1="413.78" y1="173.4" x2="413.78" y2="169.9" stroke="#333" stroke-width="0.6"/>
<text transform="translate(414.28,167.10) rotate(-45)" font-size="6.80" fill="#231f20" stroke="#231f20" stroke-width="0.04">500</text>
<line x1="427.70" y1="173.4" x2="427.70" y2="169.9" stroke="#333" stroke-width="0.6"/>
<text transform="translate(428.20,167.10) rotate(-45)" font-size="6.80" fill="#231f20" stroke="#231f20" stroke-width="0.04">1,000</text>
<line x1="320.0" y1="180.35" x2="323.3" y2="180.35" stroke="#333" stroke-width="0.6"/>
<text x="315.40" y="182.95" font-size="8.55" fill="#231f20" text-anchor="end" textLength="31.00" lengthAdjust="spacingAndGlyphs" stroke="#231f20" stroke-width="0.04">WT Neo1</text>
<line x1="320.0" y1="194.25" x2="323.3" y2="194.25" stroke="#333" stroke-width="0.6"/>
<text x="315.40" y="196.85" font-size="8.55" fill="#231f20" text-anchor="end" textLength="40.40" lengthAdjust="spacingAndGlyphs" stroke="#231f20" stroke-width="0.04">NEO1<tspan font-style="italic">stt4-4</tspan></text>
<line x1="320.0" y1="208.15" x2="323.3" y2="208.15" stroke="#333" stroke-width="0.6"/>
<text x="315.40" y="210.75" font-size="8.55" fill="#231f20" text-anchor="end" font-style="italic" textLength="37.70" lengthAdjust="spacingAndGlyphs" stroke="#231f20" stroke-width="0.04">neo1S221L</text>
<line x1="320.0" y1="222.05" x2="323.3" y2="222.05" stroke="#333" stroke-width="0.6"/>
<text x="315.40" y="224.65" font-size="8.55" fill="#231f20" text-anchor="end" font-style="italic" textLength="58.70" lengthAdjust="spacingAndGlyphs" stroke="#231f20" stroke-width="0.04">neo1S221Lstt4-4</text>
<line x1="320.0" y1="235.95" x2="323.3" y2="235.95" stroke="#333" stroke-width="0.6"/>
<text x="315.40" y="238.55" font-size="8.55" fill="#231f20" text-anchor="end" font-style="italic" textLength="41.80" lengthAdjust="spacingAndGlyphs" stroke="#231f20" stroke-width="0.04">neo1S452Q</text>
<line x1="320.0" y1="249.85" x2="323.3" y2="249.85" stroke="#333" stroke-width="0.6"/>
<text x="315.40" y="252.45" font-size="8.55" fill="#231f20" text-anchor="end" font-style="italic" textLength="63.60" lengthAdjust="spacingAndGlyphs" stroke="#231f20" stroke-width="0.04">neo1S452Qstt4-4</text>
<line x1="323.3" y1="257.7" x2="434.66" y2="257.7" stroke="#aaa" stroke-width="0.9"/>
<rect x="323.3" y="259.9" width="111.36" height="10.7" fill="url(#cbar)" stroke="#555" stroke-width="0.5"/>
<line x1="329.87" y1="259.9" x2="329.87" y2="261.4" stroke="#222" stroke-width="0.6"/>
<line x1="329.87" y1="269.1" x2="329.87" y2="270.6" stroke="#222" stroke-width="0.6"/>
<text x="329.87" y="280.10" font-size="7.00" fill="#231f20" text-anchor="middle" textLength="8.40" lengthAdjust="spacingAndGlyphs" stroke="#231f20" stroke-width="0.04">20</text>
<line x1="353.77" y1="259.9" x2="353.77" y2="261.4" stroke="#222" stroke-width="0.6"/>
<line x1="353.77" y1="269.1" x2="353.77" y2="270.6" stroke="#222" stroke-width="0.6"/>
<text x="353.77" y="280.10" font-size="7.00" fill="#231f20" text-anchor="middle" textLength="8.40" lengthAdjust="spacingAndGlyphs" stroke="#231f20" stroke-width="0.04">40</text>
<line x1="377.67" y1="259.9" x2="377.67" y2="261.4" stroke="#222" stroke-width="0.6"/>
<line x1="377.67" y1="269.1" x2="377.67" y2="270.6" stroke="#222" stroke-width="0.6"/>
<text x="377.67" y="280.10" font-size="7.00" fill="#231f20" text-anchor="middle" textLength="8.40" lengthAdjust="spacingAndGlyphs" stroke="#231f20" stroke-width="0.04">60</text>
<line x1="401.56" y1="259.9" x2="401.56" y2="261.4" stroke="#222" stroke-width="0.6"/>
<line x1="401.56" y1="269.1" x2="401.56" y2="270.6" stroke="#222" stroke-width="0.6"/>
<text x="401.56" y="280.10" font-size="7.00" fill="#231f20" text-anchor="middle" textLength="8.40" lengthAdjust="spacingAndGlyphs" stroke="#231f20" stroke-width="0.04">80</text>
<line x1="425.46" y1="259.9" x2="425.46" y2="261.4" stroke="#222" stroke-width="0.6"/>
<line x1="425.46" y1="269.1" x2="425.46" y2="270.6" stroke="#222" stroke-width="0.6"/>
<text x="425.46" y="280.10" font-size="7.00" fill="#231f20" text-anchor="middle" textLength="12.60" lengthAdjust="spacingAndGlyphs" stroke="#231f20" stroke-width="0.04">100</text>
<text x="330.30" y="292.30" font-size="9.18" fill="#231f20" textLength="98.10" lengthAdjust="spacingAndGlyphs" stroke="#231f20" stroke-width="0.04">Per cent growth relative to</text>
<text x="351.50" y="301.50" font-size="9.18" fill="#231f20" textLength="55.20" lengthAdjust="spacingAndGlyphs" stroke="#231f20" stroke-width="0.04">vehicle control</text>
<path d="M434.66 205.5 L448.1 205.5 L448.1 224.6 L434.66 224.6" stroke="#666" stroke-width="0.8" fill="none"/>
<text transform="translate(447.30,215.35) rotate(90)" font-size="10.00" fill="#ee1c24" text-anchor="middle">**</text>
<path d="M434.66 233.9 L448.1 233.9 L448.1 252.3 L434.66 252.3" stroke="#666" stroke-width="0.8" fill="none"/>
<text transform="translate(447.30,243.40) rotate(90)" font-size="10.00" fill="#ee1c24" text-anchor="middle">**</text>
<text x="571.80" y="147.60" font-size="9.49" fill="#231f20" textLength="61.30" lengthAdjust="spacingAndGlyphs" stroke="#231f20" stroke-width="0.04">Neomycin (µg ml</text>
<text x="633.60" y="144.60" font-size="5.20" fill="#231f20" textLength="5.60" lengthAdjust="spacingAndGlyphs" stroke="#231f20" stroke-width="0.04">−1</text>
<text x="639.90" y="147.60" font-size="9.49" fill="#231f20" textLength="2.60" lengthAdjust="spacingAndGlyphs" stroke="#231f20" stroke-width="0.04">)</text>
<rect x="551.40" y="173.40" width="14.92" height="14.90" fill="#cae126"/>
<rect x="565.32" y="173.40" width="14.92" height="14.90" fill="#cae126"/>
<rect x="579.24" y="173.40" width="14.92" height="14.90" fill="#dde326"/>
<rect x="593.16" y="173.40" width="14.92" height="14.90" fill="#bddf26"/>
<rect x="607.08" y="173.40" width="14.92" height="14.90" fill="#eae525"/>
<rect x="621.00" y="173.40" width="14.92" height="14.90" fill="#d0e126"/>
<rect x="634.92" y="173.40" width="14.92" height="14.90" fill="#cae126"/>
<rect x="648.84" y="173.40" width="13.92" height="14.90" fill="#bddf26"/>
<rect x="551.40" y="187.30" width="14.92" height="14.90" fill="#cae126"/>
<rect x="565.32" y="187.30" width="14.92" height="14.90" fill="#f0e525"/>
<rect x="579.24" y="187.30" width="14.92" height="14.90" fill="#fde725"/>
<rect x="593.16" y="187.30" width="14.92" height="14.90" fill="#e3e425"/>
<rect x="607.08" y="187.30" width="14.92" height="14.90" fill="#e3e425"/>
<rect x="621.00" y="187.30" width="14.92" height="14.90" fill="#e3e425"/>
<rect x="634.92" y="187.30" width="14.92" height="14.90" fill="#bddf26"/>
<rect x="648.84" y="187.30" width="13.92" height="14.90" fill="#b0dc2f"/>
<rect x="551.40" y="201.20" width="14.92" height="14.90" fill="#cae126"/>
<rect x="565.32" y="201.20" width="14.92" height="14.90" fill="#287d8e"/>
<rect x="579.24" y="201.20" width="14.92" height="14.90" fill="#414487"/>
<rect x="593.16" y="201.20" width="14.92" height="14.90" fill="#472a79"/>
<rect x="607.08" y="201.20" width="14.92" height="14.90" fill="#461264"/>
<rect x="621.00" y="201.20" width="14.92" height="14.90" fill="#461264"/>
<rect x="634.92" y="201.20" width="14.92" height="14.90" fill="#461264"/>
<rect x="648.84" y="201.20" width="13.92" height="14.90" fill="#440154"/>
<rect x="551.40" y="215.10" width="14.92" height="14.90" fill="#cae126"/>
<rect x="565.32" y="215.10" width="14.92" height="14.90" fill="#2a788e"/>
<rect x="579.24" y="215.10" width="14.92" height="14.90" fill="#3f4988"/>
<rect x="593.16" y="215.10" width="14.92" height="14.90" fill="#472a79"/>
<rect x="607.08" y="215.10" width="14.92" height="14.90" fill="#471a6b"/>
<rect x="621.00" y="215.10" width="14.92" height="14.90" fill="#471a6b"/>
<rect x="634.92" y="215.10" width="14.92" height="14.90" fill="#482475"/>
<rect x="648.84" y="215.10" width="13.92" height="14.90" fill="#471a6b"/>
<rect x="551.40" y="229.00" width="14.92" height="14.90" fill="#cae126"/>
<rect x="565.32" y="229.00" width="14.92" height="14.90" fill="#22a884"/>
<rect x="579.24" y="229.00" width="14.92" height="14.90" fill="#375a8c"/>
<rect x="593.16" y="229.00" width="14.92" height="14.90" fill="#2c738e"/>
<rect x="607.08" y="229.00" width="14.92" height="14.90" fill="#3f4988"/>
<rect x="621.00" y="229.00" width="14.92" height="14.90" fill="#3f4988"/>
<rect x="634.92" y="229.00" width="14.92" height="14.90" fill="#423e83"/>
<rect x="648.84" y="229.00" width="13.92" height="14.90" fill="#482475"/>
<rect x="551.40" y="242.90" width="14.92" height="13.90" fill="#cae126"/>
<rect x="565.32" y="242.90" width="14.92" height="13.90" fill="#22a386"/>
<rect x="579.24" y="242.90" width="14.92" height="13.90" fill="#355f8d"/>
<rect x="593.16" y="242.90" width="14.92" height="13.90" fill="#32668d"/>
<rect x="607.08" y="242.90" width="14.92" height="13.90" fill="#3f4988"/>
<rect x="621.00" y="242.90" width="14.92" height="13.90" fill="#423e83"/>
<rect x="634.92" y="242.90" width="14.92" height="13.90" fill="#44347e"/>
<rect x="648.84" y="242.90" width="13.92" height="13.90" fill="#482475"/>
<rect x="551.4" y="173.4" width="111.36" height="83.40" fill="none" stroke="#555" stroke-width="0.5"/>
<line x1="558.36" y1="173.4" x2="558.36" y2="169.9" stroke="#333" stroke-width="0.6"/>
<text transform="translate(558.86,167.10) rotate(-45)" font-size="6.80" fill="#231f20" stroke="#231f20" stroke-width="0.04">0</text>
<line x1="572.28" y1="173.4" x2="572.28" y2="169.9" stroke="#333" stroke-width="0.6"/>
<text transform="translate(572.78,167.10) rotate(-45)" font-size="6.80" fill="#231f20" stroke="#231f20" stroke-width="0.04">50</text>
<line x1="586.20" y1="173.4" x2="586.20" y2="169.9" stroke="#333" stroke-width="0.6"/>
<text transform="translate(586.70,167.10) rotate(-45)" font-size="6.80" fill="#231f20" stroke="#231f20" stroke-width="0.04">100</text>
<line x1="600.12" y1="173.4" x2="600.12" y2="169.9" stroke="#333" stroke-width="0.6"/>
<text transform="translate(600.62,167.10) rotate(-45)" font-size="6.80" fill="#231f20" stroke="#231f20" stroke-width="0.04">200</text>
<line x1="614.04" y1="173.4" x2="614.04" y2="169.9" stroke="#333" stroke-width="0.6"/>
<text transform="translate(614.54,167.10) rotate(-45)" font-size="6.80" fill="#231f20" stroke="#231f20" stroke-width="0.04">300</text>
<line x1="627.96" y1="173.4" x2="627.96" y2="169.9" stroke="#333" stroke-width="0.6"/>
<text transform="translate(628.46,167.10) rotate(-45)" font-size="6.80" fill="#231f20" stroke="#231f20" stroke-width="0.04">400</text>
<line x1="641.88" y1="173.4" x2="641.88" y2="169.9" stroke="#333" stroke-width="0.6"/>
<text transform="translate(642.38,167.10) rotate(-45)" font-size="6.80" fill="#231f20" stroke="#231f20" stroke-width="0.04">500</text>
<line x1="655.80" y1="173.4" x2="655.80" y2="169.9" stroke="#333" stroke-width="0.6"/>
<text transform="translate(656.30,167.10) rotate(-45)" font-size="6.80" fill="#231f20" stroke="#231f20" stroke-width="0.04">1,000</text>
<line x1="548.1" y1="180.35" x2="551.4" y2="180.35" stroke="#333" stroke-width="0.6"/>
<text x="543.50" y="182.95" font-size="8.55" fill="#231f20" text-anchor="end" textLength="30.90" lengthAdjust="spacingAndGlyphs" stroke="#231f20" stroke-width="0.04"><tspan font-style="italic">WT</tspan> Neo1</text>
<line x1="548.1" y1="194.25" x2="551.4" y2="194.25" stroke="#333" stroke-width="0.6"/>
<text x="543.50" y="196.85" font-size="8.55" fill="#231f20" text-anchor="end" textLength="45.30" lengthAdjust="spacingAndGlyphs" stroke="#231f20" stroke-width="0.04">NEO1<tspan font-style="italic">pik1-83</tspan></text>
<line x1="548.1" y1="208.15" x2="551.4" y2="208.15" stroke="#333" stroke-width="0.6"/>
<text x="543.50" y="210.75" font-size="8.55" fill="#231f20" text-anchor="end" font-style="italic" textLength="37.40" lengthAdjust="spacingAndGlyphs" stroke="#231f20" stroke-width="0.04">neo1S221L</text>
<line x1="548.1" y1="222.05" x2="551.4" y2="222.05" stroke="#333" stroke-width="0.6"/>
<text x="543.50" y="224.65" font-size="8.55" fill="#231f20" text-anchor="end" font-style="italic" textLength="63.40" lengthAdjust="spacingAndGlyphs" stroke="#231f20" stroke-width="0.04">neo1S221Lpik1-83</text>
<line x1="548.1" y1="235.95" x2="551.4" y2="235.95" stroke="#333" stroke-width="0.6"/>
<text x="543.50" y="238.55" font-size="8.55" fill="#231f20" text-anchor="end" font-style="italic" textLength="41.40" lengthAdjust="spacingAndGlyphs" stroke="#231f20" stroke-width="0.04">neo1S452Q</text>
<line x1="548.1" y1="249.85" x2="551.4" y2="249.85" stroke="#333" stroke-width="0.6"/>
<text x="543.50" y="252.45" font-size="8.55" fill="#231f20" text-anchor="end" font-style="italic" textLength="67.50" lengthAdjust="spacingAndGlyphs" stroke="#231f20" stroke-width="0.04">neo1S452Qpik1-83</text>
<line x1="551.4" y1="257.7" x2="662.76" y2="257.7" stroke="#aaa" stroke-width="0.9"/>
<rect x="551.4" y="259.9" width="111.36" height="10.7" fill="url(#cbar)" stroke="#555" stroke-width="0.5"/>
<line x1="555.08" y1="259.9" x2="555.08" y2="261.4" stroke="#222" stroke-width="0.6"/>
<line x1="555.08" y1="269.1" x2="555.08" y2="270.6" stroke="#222" stroke-width="0.6"/>
<text x="555.08" y="280.10" font-size="7.00" fill="#231f20" text-anchor="middle" textLength="8.40" lengthAdjust="spacingAndGlyphs" stroke="#231f20" stroke-width="0.04">20</text>
<line x1="579.64" y1="259.9" x2="579.64" y2="261.4" stroke="#222" stroke-width="0.6"/>
<line x1="579.64" y1="269.1" x2="579.64" y2="270.6" stroke="#222" stroke-width="0.6"/>
<text x="579.64" y="280.10" font-size="7.00" fill="#231f20" text-anchor="middle" textLength="8.40" lengthAdjust="spacingAndGlyphs" stroke="#231f20" stroke-width="0.04">40</text>
<line x1="604.19" y1="259.9" x2="604.19" y2="261.4" stroke="#222" stroke-width="0.6"/>
<line x1="604.19" y1="269.1" x2="604.19" y2="270.6" stroke="#222" stroke-width="0.6"/>
<text x="604.19" y="280.10" font-size="7.00" fill="#231f20" text-anchor="middle" textLength="8.40" lengthAdjust="spacingAndGlyphs" stroke="#231f20" stroke-width="0.04">60</text>
<line x1="628.75" y1="259.9" x2="628.75" y2="261.4" stroke="#222" stroke-width="0.6"/>
<line x1="628.75" y1="269.1" x2="628.75" y2="270.6" stroke="#222" stroke-width="0.6"/>
<text x="628.75" y="280.10" font-size="7.00" fill="#231f20" text-anchor="middle" textLength="8.40" lengthAdjust="spacingAndGlyphs" stroke="#231f20" stroke-width="0.04">80</text>
<line x1="653.31" y1="259.9" x2="653.31" y2="261.4" stroke="#222" stroke-width="0.6"/>
<line x1="653.31" y1="269.1" x2="653.31" y2="270.6" stroke="#222" stroke-width="0.6"/>
<text x="653.31" y="280.10" font-size="7.00" fill="#231f20" text-anchor="middle" textLength="12.60" lengthAdjust="spacingAndGlyphs" stroke="#231f20" stroke-width="0.04">100</text>
<text x="557.80" y="292.30" font-size="9.18" fill="#231f20" textLength="98.20" lengthAdjust="spacingAndGlyphs" stroke="#231f20" stroke-width="0.04">Per cent growth relative to</text>
<text x="579.70" y="301.50" font-size="9.18" fill="#231f20" textLength="54.70" lengthAdjust="spacingAndGlyphs" stroke="#231f20" stroke-width="0.04">vehicle control</text>
<path d="M662.76 205.5 L667.9 205.5 L667.9 224.6 L662.76 224.6" stroke="#666" stroke-width="0.8" fill="none"/>
<text transform="translate(670.20,215.05) rotate(90)" font-size="7.40" fill="#f03a3a" text-anchor="middle" textLength="11.40" lengthAdjust="spacingAndGlyphs">n.s.</text>
<path d="M662.76 233.9 L667.9 233.9 L667.9 252.3 L662.76 252.3" stroke="#666" stroke-width="0.8" fill="none"/>
<text transform="translate(670.20,243.10) rotate(90)" font-size="7.40" fill="#f03a3a" text-anchor="middle" textLength="11.40" lengthAdjust="spacingAndGlyphs">n.s.</text>
</svg></body></html>
